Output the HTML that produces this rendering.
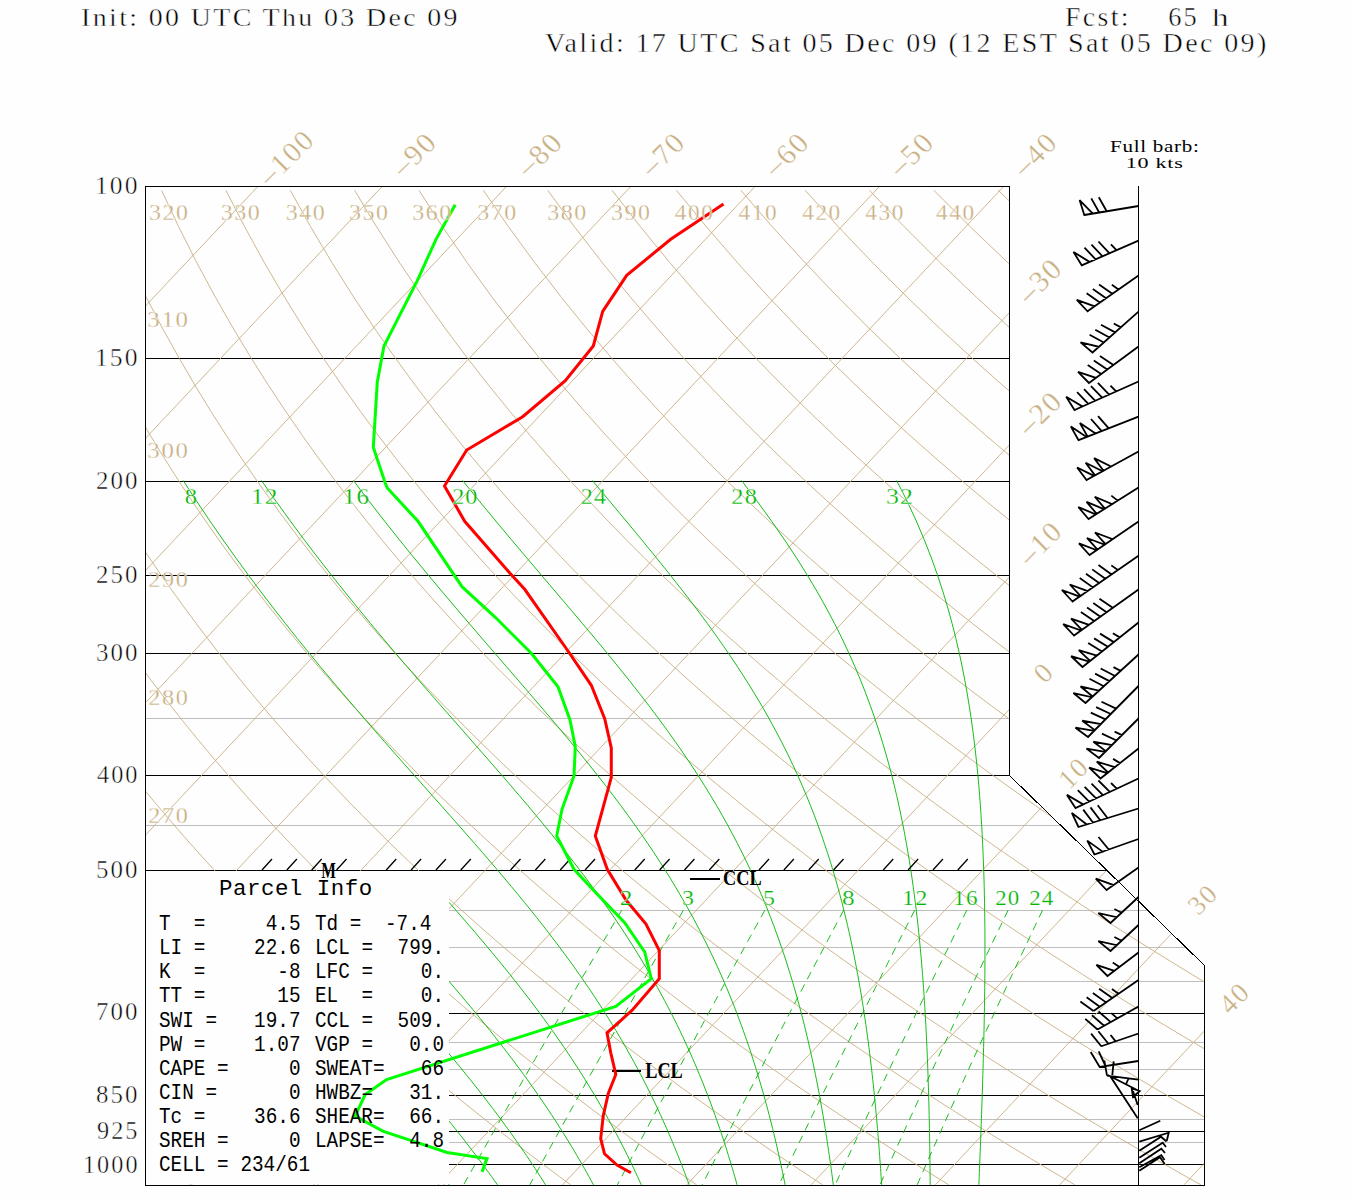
<!DOCTYPE html><html><head><meta charset="utf-8"><style>html,body{margin:0;padding:0;background:#fff;}svg{display:block;}</style></head><body><svg width="1350" height="1200" viewBox="0 0 1350 1200"><rect width="1350" height="1200" fill="#fefefe"/><defs><clipPath id="fr"><polygon points="145,186 1009,186 1009,775 1204,965 1204,1185 145,1185"/></clipPath></defs><g clip-path="url(#fr)" fill="none" stroke-width="1" shape-rendering="crispEdges"><line x1="145" y1="718.5" x2="1205" y2="718.5" stroke="#bebebe"/><line x1="145" y1="825.5" x2="1205" y2="825.5" stroke="#bebebe"/><line x1="145" y1="910.5" x2="1205" y2="910.5" stroke="#bebebe"/><line x1="145" y1="947.5" x2="1205" y2="947.5" stroke="#bebebe"/><line x1="145" y1="981.5" x2="1205" y2="981.5" stroke="#bebebe"/><line x1="145" y1="1042.5" x2="1205" y2="1042.5" stroke="#bebebe"/><line x1="145" y1="1069.5" x2="1205" y2="1069.5" stroke="#bebebe"/><line x1="145" y1="1119.5" x2="1205" y2="1119.5" stroke="#bebebe"/><line x1="145" y1="1142.5" x2="1205" y2="1142.5" stroke="#bebebe"/><line x1="145" y1="358.5" x2="1205" y2="358.5" stroke="#000"/><line x1="145" y1="481.5" x2="1205" y2="481.5" stroke="#000"/><line x1="145" y1="575.5" x2="1205" y2="575.5" stroke="#000"/><line x1="145" y1="653.5" x2="1205" y2="653.5" stroke="#000"/><line x1="145" y1="775.5" x2="1205" y2="775.5" stroke="#000"/><line x1="145" y1="870.5" x2="1205" y2="870.5" stroke="#000"/><line x1="145" y1="1013.5" x2="1205" y2="1013.5" stroke="#000"/><line x1="145" y1="1095.5" x2="1205" y2="1095.5" stroke="#000"/><line x1="145" y1="1131.5" x2="1205" y2="1131.5" stroke="#000"/><line x1="145" y1="1164.5" x2="1205" y2="1164.5" stroke="#000"/></g><g clip-path="url(#fr)" fill="none" stroke-width="0.9"><line x1="-487.5" y1="186" x2="-1426.34" y2="1184.86" stroke="#c8af82"/><line x1="-363.2" y1="186" x2="-1302.04" y2="1184.86" stroke="#c8af82"/><line x1="-238.9" y1="186" x2="-1177.74" y2="1184.86" stroke="#c8af82"/><line x1="-114.6" y1="186" x2="-1053.44" y2="1184.86" stroke="#c8af82"/><line x1="9.7" y1="186" x2="-929.14" y2="1184.86" stroke="#c8af82"/><line x1="134" y1="186" x2="-804.84" y2="1184.86" stroke="#c8af82"/><line x1="258.3" y1="186" x2="-680.54" y2="1184.86" stroke="#c8af82"/><line x1="382.6" y1="186" x2="-556.24" y2="1184.86" stroke="#c8af82"/><line x1="506.9" y1="186" x2="-431.94" y2="1184.86" stroke="#c8af82"/><line x1="631.2" y1="186" x2="-307.64" y2="1184.86" stroke="#c8af82"/><line x1="755.5" y1="186" x2="-183.34" y2="1184.86" stroke="#c8af82"/><line x1="879.8" y1="186" x2="-59.04" y2="1184.86" stroke="#c8af82"/><line x1="1004.1" y1="186" x2="65.26" y2="1184.86" stroke="#c8af82"/><line x1="1128.4" y1="186" x2="189.56" y2="1184.86" stroke="#c8af82"/><line x1="1252.7" y1="186" x2="313.86" y2="1184.86" stroke="#c8af82"/><line x1="1377" y1="186" x2="438.16" y2="1184.86" stroke="#c8af82"/><line x1="1501.3" y1="186" x2="562.46" y2="1184.86" stroke="#c8af82"/><line x1="1625.6" y1="186" x2="686.76" y2="1184.86" stroke="#c8af82"/><line x1="1749.9" y1="186" x2="811.06" y2="1184.86" stroke="#c8af82"/><line x1="1874.2" y1="186" x2="935.36" y2="1184.86" stroke="#c8af82"/><line x1="1998.5" y1="186" x2="1059.66" y2="1184.86" stroke="#c8af82"/><line x1="2122.8" y1="186" x2="1183.96" y2="1184.86" stroke="#c8af82"/><polyline points="-610.74,190.32 -612.89,226.57 -614.26,263.53 -614.78,297.53 -614.61,329.01 -613.87,358.32 -612.68,385.73 -611.09,411.48 -609.18,435.76 -607,458.72 -604.58,480.51 -601.97,501.24 -599.19,521 -596.27,539.88 -593.22,557.95 -590.06,575.29 -586.81,591.95 -583.49,607.98 -580.09,623.43 -576.64,638.34 -573.13,652.74 -569.58,666.66 -565.99,680.15 -562.37,693.22 -558.73,705.9 -555.06,718.21 -551.37,730.18 -547.67,741.82 -543.96,753.15 -540.23,764.18 -536.5,774.93 -532.77,785.42 -529.03,795.66 -525.29,805.65 -521.54,815.42 -517.8,824.96 -514.07,834.3 -510.33,843.43 -506.61,852.38 -502.88,861.13 -499.17,869.71 -495.46,878.13 -491.75,886.37 -488.06,894.47 -484.38,902.4 -480.7,910.2 -477.03,917.85 -473.38,925.37 -469.73,932.76 -466.1,940.02 -462.48,947.16 -458.86,954.18 -455.26,961.09 -451.67,967.88 -448.09,974.57 -444.53,981.16 -440.97,987.64 -437.43,994.03 -433.9,1000.32 -430.38,1006.52 -426.88,1012.63 -423.38,1018.66 -419.9,1024.6 -416.43,1030.46 -412.98,1036.24 -409.53,1041.94 -406.1,1047.57 -402.68,1053.12 -399.27,1058.6 -395.88,1064.01 -392.49,1069.35 -389.12,1074.63 -385.76,1079.84 -382.42,1084.99 -379.08,1090.08 -375.76,1095.1 -372.45,1100.07 -369.15,1104.98 -365.86,1109.84 -362.59,1114.64 -359.32,1119.38 -356.07,1124.08 -352.83,1128.72 -349.6,1133.31 -346.38,1137.85 -343.18,1142.35 -339.98,1146.8 -336.8,1151.2 -333.63,1155.55 -330.47,1159.87 -327.32,1164.14 -324.18,1168.36 -321.05,1172.55 -317.93,1176.69 -314.83,1180.8 -311.73,1184.86" stroke="#c8af82"/><polyline points="-546.38,190.32 -546.93,226.57 -546.64,263.53 -545.58,297.53 -543.92,329.01 -541.78,358.32 -539.23,385.73 -536.35,411.48 -533.21,435.76 -529.84,458.72 -526.28,480.51 -522.56,501.24 -518.71,521 -514.76,539.88 -510.7,557.95 -506.58,575.29 -502.38,591.95 -498.13,607.98 -493.84,623.43 -489.51,638.34 -485.16,652.74 -480.77,666.66 -476.37,680.15 -471.96,693.22 -467.54,705.9 -463.11,718.21 -458.67,730.18 -454.24,741.82 -449.81,753.15 -445.38,764.18 -440.95,774.93 -436.54,785.42 -432.13,795.66 -427.73,805.65 -423.35,815.42 -418.97,824.96 -414.61,834.3 -410.26,843.43 -405.92,852.38 -401.6,861.13 -397.3,869.71 -393.01,878.13 -388.73,886.37 -384.47,894.47 -380.23,902.4 -376,910.2 -371.8,917.85 -367.6,925.37 -363.43,932.76 -359.27,940.02 -355.13,947.16 -351.01,954.18 -346.9,961.09 -342.81,967.88 -338.74,974.57 -334.69,981.16 -330.65,987.64 -326.63,994.03 -322.63,1000.32 -318.64,1006.52 -314.67,1012.63 -310.72,1018.66 -306.79,1024.6 -302.87,1030.46 -298.97,1036.24 -295.08,1041.94 -291.22,1047.57 -287.36,1053.12 -283.53,1058.6 -279.71,1064.01 -275.91,1069.35 -272.12,1074.63 -268.35,1079.84 -264.59,1084.99 -260.85,1090.08 -257.12,1095.1 -253.42,1100.07 -249.72,1104.98 -246.04,1109.84 -242.38,1114.64 -238.73,1119.38 -235.09,1124.08 -231.47,1128.72 -227.87,1133.31 -224.27,1137.85 -220.7,1142.35 -217.13,1146.8 -213.58,1151.2 -210.05,1155.55 -206.53,1159.87 -203.02,1164.14 -199.52,1168.36 -196.04,1172.55 -192.57,1176.69 -189.12,1180.8 -185.68,1184.86" stroke="#c8af82"/><polyline points="-482.02,190.32 -480.98,226.57 -479.01,263.53 -476.39,297.53 -473.24,329.01 -469.68,358.32 -465.78,385.73 -461.62,411.48 -457.23,435.76 -452.67,458.72 -447.97,480.51 -443.15,501.24 -438.24,521 -433.24,539.88 -428.19,557.95 -423.09,575.29 -417.95,591.95 -412.78,607.98 -407.59,623.43 -402.39,638.34 -397.18,652.74 -391.97,666.66 -386.75,680.15 -381.55,693.22 -376.34,705.9 -371.15,718.21 -365.97,730.18 -360.8,741.82 -355.65,753.15 -350.52,764.18 -345.41,774.93 -340.31,785.42 -335.23,795.66 -330.18,805.65 -325.15,815.42 -320.14,824.96 -315.15,834.3 -310.18,843.43 -305.24,852.38 -300.32,861.13 -295.43,869.71 -290.56,878.13 -285.71,886.37 -280.88,894.47 -276.08,902.4 -271.31,910.2 -266.56,917.85 -261.83,925.37 -257.13,932.76 -252.44,940.02 -247.79,947.16 -243.15,954.18 -238.54,961.09 -233.95,967.88 -229.39,974.57 -224.85,981.16 -220.33,987.64 -215.83,994.03 -211.36,1000.32 -206.9,1006.52 -202.47,1012.63 -198.06,1018.66 -193.68,1024.6 -189.31,1030.46 -184.96,1036.24 -180.64,1041.94 -176.33,1047.57 -172.05,1053.12 -167.79,1058.6 -163.54,1064.01 -159.32,1069.35 -155.12,1074.63 -150.93,1079.84 -146.77,1084.99 -142.62,1090.08 -138.49,1095.1 -134.38,1100.07 -130.29,1104.98 -126.22,1109.84 -122.17,1114.64 -118.13,1119.38 -114.11,1124.08 -110.11,1128.72 -106.13,1133.31 -102.16,1137.85 -98.21,1142.35 -94.28,1146.8 -90.37,1151.2 -86.47,1155.55 -82.58,1159.87 -78.72,1164.14 -74.87,1168.36 -71.03,1172.55 -67.21,1176.69 -63.41,1180.8 -59.62,1184.86" stroke="#c8af82"/><polyline points="-417.66,190.32 -415.02,226.57 -411.39,263.53 -407.19,297.53 -402.55,329.01 -397.58,358.32 -392.33,385.73 -386.88,411.48 -381.26,435.76 -375.51,458.72 -369.66,480.51 -363.74,501.24 -357.76,521 -351.73,539.88 -345.68,557.95 -339.6,575.29 -333.52,591.95 -327.43,607.98 -321.35,623.43 -315.27,638.34 -309.21,652.74 -303.16,666.66 -297.14,680.15 -291.13,693.22 -285.15,705.9 -279.2,718.21 -273.27,730.18 -267.37,741.82 -261.5,753.15 -255.66,764.18 -249.86,774.93 -244.08,785.42 -238.34,795.66 -232.63,805.65 -226.95,815.42 -221.3,824.96 -215.69,834.3 -210.11,843.43 -204.56,852.38 -199.04,861.13 -193.56,869.71 -188.1,878.13 -182.68,886.37 -177.3,894.47 -171.94,902.4 -166.61,910.2 -161.32,917.85 -156.05,925.37 -150.82,932.76 -145.62,940.02 -140.44,947.16 -135.3,954.18 -130.18,961.09 -125.1,967.88 -120.04,974.57 -115.01,981.16 -110.01,987.64 -105.03,994.03 -100.09,1000.32 -95.17,1006.52 -90.27,1012.63 -85.4,1018.66 -80.56,1024.6 -75.75,1030.46 -70.96,1036.24 -66.19,1041.94 -61.45,1047.57 -56.74,1053.12 -52.04,1058.6 -47.38,1064.01 -42.73,1069.35 -38.11,1074.63 -33.51,1079.84 -28.94,1084.99 -24.39,1090.08 -19.86,1095.1 -15.35,1100.07 -10.86,1104.98 -6.4,1109.84 -1.96,1114.64 2.47,1119.38 6.87,1124.08 11.25,1128.72 15.61,1133.31 19.95,1137.85 24.27,1142.35 28.57,1146.8 32.85,1151.2 37.11,1155.55 41.36,1159.87 45.58,1164.14 49.79,1168.36 53.98,1172.55 58.14,1176.69 62.3,1180.8 66.43,1184.86" stroke="#c8af82"/><polyline points="-353.3,190.32 -349.06,226.57 -343.76,263.53 -337.99,297.53 -331.87,329.01 -325.48,358.32 -318.89,385.73 -312.14,411.48 -305.29,435.76 -298.35,458.72 -291.36,480.51 -284.33,501.24 -277.28,521 -270.22,539.88 -263.16,557.95 -256.11,575.29 -249.08,591.95 -242.08,607.98 -235.1,623.43 -228.15,638.34 -221.23,652.74 -214.36,666.66 -207.52,680.15 -200.72,693.22 -193.96,705.9 -187.24,718.21 -180.57,730.18 -173.94,741.82 -167.35,753.15 -160.81,764.18 -154.31,774.93 -147.85,785.42 -141.44,795.66 -135.07,805.65 -128.75,815.42 -122.47,824.96 -116.23,834.3 -110.03,843.43 -103.87,852.38 -97.76,861.13 -91.69,869.71 -85.65,878.13 -79.66,886.37 -73.71,894.47 -67.79,902.4 -61.92,910.2 -56.08,917.85 -50.28,925.37 -44.52,932.76 -38.79,940.02 -33.1,947.16 -27.44,954.18 -21.82,961.09 -16.24,967.88 -10.69,974.57 -5.17,981.16 0.32,987.64 5.77,994.03 11.19,1000.32 16.57,1006.52 21.93,1012.63 27.26,1018.66 32.55,1024.6 37.81,1030.46 43.05,1036.24 48.25,1041.94 53.43,1047.57 58.58,1053.12 63.7,1058.6 68.79,1064.01 73.85,1069.35 78.89,1074.63 83.9,1079.84 88.89,1084.99 93.84,1090.08 98.78,1095.1 103.68,1100.07 108.56,1104.98 113.42,1109.84 118.25,1114.64 123.06,1119.38 127.85,1124.08 132.61,1128.72 137.35,1133.31 142.06,1137.85 146.75,1142.35 151.42,1146.8 156.07,1151.2 160.7,1155.55 165.3,1159.87 169.88,1164.14 174.44,1168.36 178.98,1172.55 183.5,1176.69 188,1180.8 192.48,1184.86" stroke="#c8af82"/><polyline points="-288.94,190.32 -283.11,226.57 -276.14,263.53 -268.8,297.53 -261.19,329.01 -253.38,358.32 -245.44,385.73 -237.41,411.48 -229.32,435.76 -221.19,458.72 -213.05,480.51 -204.92,501.24 -196.8,521 -188.71,539.88 -180.65,557.95 -172.63,575.29 -164.65,591.95 -156.72,607.98 -148.85,623.43 -141.03,638.34 -133.26,652.74 -125.55,666.66 -117.9,680.15 -110.3,693.22 -102.77,705.9 -95.29,718.21 -87.87,730.18 -80.5,741.82 -73.2,753.15 -65.95,764.18 -58.76,774.93 -51.63,785.42 -44.55,795.66 -37.52,805.65 -30.55,815.42 -23.63,824.96 -16.77,834.3 -9.95,843.43 -3.19,852.38 3.52,861.13 10.18,869.71 16.8,878.13 23.36,886.37 29.88,894.47 36.35,902.4 42.78,910.2 49.16,917.85 55.5,925.37 61.79,932.76 68.04,940.02 74.25,947.16 80.41,954.18 86.54,961.09 92.62,967.88 98.66,974.57 104.67,981.16 110.64,987.64 116.57,994.03 122.46,1000.32 128.31,1006.52 134.13,1012.63 139.91,1018.66 145.66,1024.6 151.38,1030.46 157.05,1036.24 162.7,1041.94 168.31,1047.57 173.89,1053.12 179.44,1058.6 184.96,1064.01 190.44,1069.35 195.89,1074.63 201.32,1079.84 206.71,1084.99 212.07,1090.08 217.41,1095.1 222.71,1100.07 227.99,1104.98 233.24,1109.84 238.46,1114.64 243.66,1119.38 248.83,1124.08 253.97,1128.72 259.08,1133.31 264.17,1137.85 269.24,1142.35 274.27,1146.8 279.29,1151.2 284.28,1155.55 289.24,1159.87 294.18,1164.14 299.1,1168.36 303.99,1172.55 308.86,1176.69 313.71,1180.8 318.54,1184.86" stroke="#c8af82"/><polyline points="-224.58,190.32 -217.15,226.57 -208.51,263.53 -199.6,297.53 -190.5,329.01 -181.28,358.32 -171.99,385.73 -162.67,411.48 -153.34,435.76 -144.03,458.72 -134.75,480.51 -125.51,501.24 -116.32,521 -107.19,539.88 -98.13,557.95 -89.14,575.29 -80.22,591.95 -71.37,607.98 -62.6,623.43 -53.91,638.34 -45.29,652.74 -36.74,666.66 -28.28,680.15 -19.89,693.22 -11.57,705.9 -3.33,718.21 4.83,730.18 12.93,741.82 20.95,753.15 28.9,764.18 36.79,774.93 44.6,785.42 52.35,795.66 60.03,805.65 67.65,815.42 75.2,824.96 82.69,834.3 90.12,843.43 97.49,852.38 104.8,861.13 112.05,869.71 119.25,878.13 126.39,886.37 133.47,894.47 140.5,902.4 147.47,910.2 154.4,917.85 161.27,925.37 168.09,932.76 174.87,940.02 181.59,947.16 188.27,954.18 194.9,961.09 201.48,967.88 208.02,974.57 214.51,981.16 220.96,987.64 227.37,994.03 233.73,1000.32 240.05,1006.52 246.33,1012.63 252.57,1018.66 258.78,1024.6 264.94,1030.46 271.06,1036.24 277.15,1041.94 283.19,1047.57 289.21,1053.12 295.18,1058.6 301.12,1064.01 307.03,1069.35 312.9,1074.63 318.73,1079.84 324.54,1084.99 330.31,1090.08 336.04,1095.1 341.75,1100.07 347.42,1104.98 353.06,1109.84 358.67,1114.64 364.25,1119.38 369.81,1124.08 375.33,1128.72 380.82,1133.31 386.28,1137.85 391.72,1142.35 397.13,1146.8 402.51,1151.2 407.86,1155.55 413.18,1159.87 418.48,1164.14 423.75,1168.36 429,1172.55 434.22,1176.69 439.42,1180.8 444.59,1184.86" stroke="#c8af82"/><polyline points="-160.22,190.32 -151.19,226.57 -140.89,263.53 -130.4,297.53 -119.82,329.01 -109.18,358.32 -98.55,385.73 -87.93,411.48 -77.37,435.76 -66.87,458.72 -56.44,480.51 -46.1,501.24 -35.84,521 -25.68,539.88 -15.62,557.95 -5.65,575.29 4.21,591.95 13.98,607.98 23.65,623.43 33.22,638.34 42.69,652.74 52.06,666.66 61.34,680.15 70.53,693.22 79.62,705.9 88.62,718.21 97.54,730.18 106.36,741.82 115.1,753.15 123.76,764.18 132.34,774.93 140.83,785.42 149.25,795.66 157.58,805.65 165.85,815.42 174.04,824.96 182.15,834.3 190.2,843.43 198.17,852.38 206.08,861.13 213.92,869.71 221.7,878.13 229.41,886.37 237.06,894.47 244.64,902.4 252.17,910.2 259.64,917.85 267.05,925.37 274.4,932.76 281.69,940.02 288.93,947.16 296.12,954.18 303.25,961.09 310.34,967.88 317.37,974.57 324.35,981.16 331.28,987.64 338.17,994.03 345,1000.32 351.79,1006.52 358.53,1012.63 365.23,1018.66 371.89,1024.6 378.5,1030.46 385.07,1036.24 391.59,1041.94 398.08,1047.57 404.52,1053.12 410.92,1058.6 417.29,1064.01 423.61,1069.35 429.9,1074.63 436.15,1079.84 442.36,1084.99 448.54,1090.08 454.68,1095.1 460.78,1100.07 466.85,1104.98 472.88,1109.84 478.88,1114.64 484.85,1119.38 490.79,1124.08 496.69,1128.72 502.56,1133.31 508.39,1137.85 514.2,1142.35 519.98,1146.8 525.72,1151.2 531.44,1155.55 537.13,1159.87 542.78,1164.14 548.41,1168.36 554.01,1172.55 559.58,1176.69 565.13,1180.8 570.64,1184.86" stroke="#c8af82"/><polyline points="-95.87,190.32 -85.24,226.57 -73.26,263.53 -61.21,297.53 -49.13,329.01 -37.09,358.32 -25.1,385.73 -13.2,411.48 -1.4,435.76 10.29,458.72 21.87,480.51 33.31,501.24 44.64,521 55.83,539.88 66.9,557.95 77.83,575.29 88.65,591.95 99.33,607.98 109.9,623.43 120.34,638.34 130.66,652.74 140.87,666.66 150.96,680.15 160.94,693.22 170.81,705.9 180.58,718.21 190.24,730.18 199.8,741.82 209.25,753.15 218.62,764.18 227.88,774.93 237.06,785.42 246.14,795.66 255.14,805.65 264.05,815.42 272.87,824.96 281.61,834.3 290.27,843.43 298.86,852.38 307.36,861.13 315.79,869.71 324.15,878.13 332.43,886.37 340.65,894.47 348.79,902.4 356.87,910.2 364.88,917.85 372.82,925.37 380.7,932.76 388.52,940.02 396.28,947.16 403.98,954.18 411.61,961.09 419.2,967.88 426.72,974.57 434.19,981.16 441.6,987.64 448.96,994.03 456.27,1000.32 463.53,1006.52 470.74,1012.63 477.89,1018.66 485,1024.6 492.06,1030.46 499.07,1036.24 506.04,1041.94 512.96,1047.57 519.83,1053.12 526.67,1058.6 533.45,1064.01 540.2,1069.35 546.9,1074.63 553.57,1079.84 560.19,1084.99 566.77,1090.08 573.31,1095.1 579.81,1100.07 586.28,1104.98 592.7,1109.84 599.09,1114.64 605.45,1119.38 611.77,1124.08 618.05,1128.72 624.29,1133.31 630.51,1137.85 636.68,1142.35 642.83,1146.8 648.94,1151.2 655.02,1155.55 661.07,1159.87 667.08,1164.14 673.07,1168.36 679.02,1172.55 684.94,1176.69 690.83,1180.8 696.7,1184.86" stroke="#c8af82"/><polyline points="-31.51,190.32 -19.28,226.57 -5.64,263.53 7.99,297.53 21.55,329.01 35.01,358.32 48.35,385.73 61.54,411.48 74.58,435.76 87.46,458.72 100.17,480.51 112.73,501.24 125.12,521 137.34,539.88 149.41,557.95 161.32,575.29 173.08,591.95 184.68,607.98 196.14,623.43 207.46,638.34 218.63,652.74 229.67,666.66 240.58,680.15 251.35,693.22 262,705.9 272.53,718.21 282.94,730.18 293.23,741.82 303.41,753.15 313.47,764.18 323.43,774.93 333.29,785.42 343.04,795.66 352.69,805.65 362.25,815.42 371.71,824.96 381.07,834.3 390.35,843.43 399.54,852.38 408.64,861.13 417.66,869.71 426.6,878.13 435.46,886.37 444.23,894.47 452.94,902.4 461.56,910.2 470.11,917.85 478.6,925.37 487.01,932.76 495.35,940.02 503.62,947.16 511.83,954.18 519.97,961.09 528.05,967.88 536.07,974.57 544.03,981.16 551.93,987.64 559.76,994.03 567.54,1000.32 575.27,1006.52 582.94,1012.63 590.55,1018.66 598.11,1024.6 605.62,1030.46 613.08,1036.24 620.48,1041.94 627.84,1047.57 635.15,1053.12 642.41,1058.6 649.62,1064.01 656.79,1069.35 663.91,1074.63 670.98,1079.84 678.01,1084.99 685,1090.08 691.94,1095.1 698.85,1100.07 705.71,1104.98 712.53,1109.84 719.3,1114.64 726.04,1119.38 732.74,1124.08 739.41,1128.72 746.03,1133.31 752.62,1137.85 759.17,1142.35 765.68,1146.8 772.16,1151.2 778.6,1155.55 785.01,1159.87 791.38,1164.14 797.72,1168.36 804.03,1172.55 810.3,1176.69 816.54,1180.8 822.75,1184.86" stroke="#c8af82"/><polyline points="32.85,190.32 46.67,226.57 61.98,263.53 77.19,297.53 92.24,329.01 107.11,358.32 121.79,385.73 136.28,411.48 150.55,435.76 164.62,458.72 178.48,480.51 192.14,501.24 205.59,521 218.86,539.88 231.93,557.95 244.81,575.29 257.51,591.95 270.04,607.98 282.39,623.43 294.58,638.34 306.61,652.74 318.48,666.66 330.2,680.15 341.77,693.22 353.2,705.9 364.48,718.21 375.64,730.18 386.66,741.82 397.56,753.15 408.33,764.18 418.98,774.93 429.51,785.42 439.93,795.66 450.24,805.65 460.44,815.42 470.54,824.96 480.53,834.3 490.43,843.43 500.22,852.38 509.92,861.13 519.53,869.71 529.05,878.13 538.48,886.37 547.82,894.47 557.08,902.4 566.26,910.2 575.35,917.85 584.37,925.37 593.31,932.76 602.18,940.02 610.97,947.16 619.68,954.18 628.33,961.09 636.91,967.88 645.42,974.57 653.87,981.16 662.25,987.64 670.56,994.03 678.82,1000.32 687.01,1006.52 695.14,1012.63 703.21,1018.66 711.23,1024.6 719.18,1030.46 727.08,1036.24 734.93,1041.94 742.72,1047.57 750.46,1053.12 758.15,1058.6 765.79,1064.01 773.37,1069.35 780.91,1074.63 788.4,1079.84 795.84,1084.99 803.23,1090.08 810.58,1095.1 817.88,1100.07 825.13,1104.98 832.35,1109.84 839.51,1114.64 846.64,1119.38 853.72,1124.08 860.77,1128.72 867.77,1133.31 874.73,1137.85 881.65,1142.35 888.53,1146.8 895.38,1151.2 902.18,1155.55 908.95,1159.87 915.68,1164.14 922.38,1168.36 929.04,1172.55 935.66,1176.69 942.25,1180.8 948.8,1184.86" stroke="#c8af82"/><polyline points="97.21,190.32 112.63,226.57 129.61,263.53 146.38,297.53 162.92,329.01 179.21,358.32 195.24,385.73 211.01,411.48 226.52,435.76 241.78,458.72 256.79,480.51 271.55,501.24 286.07,521 300.37,539.88 314.44,557.95 328.3,575.29 341.94,591.95 355.39,607.98 368.64,623.43 381.7,638.34 394.58,652.74 407.28,666.66 419.82,680.15 432.18,693.22 444.39,705.9 456.44,718.21 468.34,730.18 480.1,741.82 491.71,753.15 503.18,764.18 514.53,774.93 525.74,785.42 536.83,795.66 547.8,805.65 558.64,815.42 569.37,824.96 579.99,834.3 590.5,843.43 600.91,852.38 611.2,861.13 621.4,869.71 631.5,878.13 641.5,886.37 651.41,894.47 661.23,902.4 670.95,910.2 680.59,917.85 690.15,925.37 699.61,932.76 709,940.02 718.31,947.16 727.54,954.18 736.69,961.09 745.77,967.88 754.77,974.57 763.71,981.16 772.57,987.64 781.36,994.03 790.09,1000.32 798.75,1006.52 807.34,1012.63 815.87,1018.66 824.34,1024.6 832.74,1030.46 841.09,1036.24 849.38,1041.94 857.61,1047.57 865.78,1053.12 873.89,1058.6 881.95,1064.01 889.96,1069.35 897.91,1074.63 905.81,1079.84 913.66,1084.99 921.46,1090.08 929.21,1095.1 936.91,1100.07 944.56,1104.98 952.17,1109.84 959.72,1114.64 967.24,1119.38 974.7,1124.08 982.13,1128.72 989.5,1133.31 996.84,1137.85 1004.13,1142.35 1011.38,1146.8 1018.59,1151.2 1025.76,1155.55 1032.89,1159.87 1039.98,1164.14 1047.03,1168.36 1054.05,1172.55 1061.02,1176.69 1067.96,1180.8 1074.86,1184.86" stroke="#c8af82"/><polyline points="161.57,190.32 178.59,226.57 197.23,263.53 215.58,297.53 233.61,329.01 251.31,358.32 268.69,385.73 285.75,411.48 302.5,435.76 318.94,458.72 335.09,480.51 350.96,501.24 366.55,521 381.88,539.88 396.95,557.95 411.78,575.29 426.38,591.95 440.74,607.98 454.89,623.43 468.82,638.34 482.55,652.74 496.09,666.66 509.43,680.15 522.6,693.22 535.58,705.9 548.39,718.21 561.04,730.18 573.53,741.82 585.86,753.15 598.04,764.18 610.08,774.93 621.97,785.42 633.73,795.66 645.35,805.65 656.84,815.42 668.21,824.96 679.45,834.3 690.58,843.43 701.59,852.38 712.48,861.13 723.27,869.71 733.95,878.13 744.53,886.37 755,894.47 765.37,902.4 775.65,910.2 785.83,917.85 795.92,925.37 805.92,932.76 815.83,940.02 825.65,947.16 835.39,954.18 845.05,961.09 854.63,967.88 864.13,974.57 873.55,981.16 882.89,987.64 892.16,994.03 901.36,1000.32 910.49,1006.52 919.54,1012.63 928.53,1018.66 937.45,1024.6 946.31,1030.46 955.1,1036.24 963.82,1041.94 972.49,1047.57 981.09,1053.12 989.63,1058.6 998.12,1064.01 1006.55,1069.35 1014.92,1074.63 1023.23,1079.84 1031.49,1084.99 1039.69,1090.08 1047.84,1095.1 1055.94,1100.07 1063.99,1104.98 1071.99,1109.84 1079.93,1114.64 1087.83,1119.38 1095.68,1124.08 1103.49,1128.72 1111.24,1133.31 1118.95,1137.85 1126.62,1142.35 1134.24,1146.8 1141.81,1151.2 1149.34,1155.55 1156.83,1159.87 1164.28,1164.14 1171.69,1168.36 1179.05,1172.55 1186.38,1176.69 1193.66,1180.8 1200.91,1184.86" stroke="#c8af82"/><polyline points="225.93,190.32 244.54,226.57 264.86,263.53 284.78,297.53 304.29,329.01 323.41,358.32 342.14,385.73 360.49,411.48 378.47,435.76 396.1,458.72 413.4,480.51 430.37,501.24 447.03,521 463.39,539.88 479.47,557.95 495.27,575.29 510.81,591.95 526.09,607.98 541.14,623.43 555.94,638.34 570.53,652.74 584.9,666.66 599.05,680.15 613.01,693.22 626.77,705.9 640.35,718.21 653.74,730.18 666.96,741.82 680.01,753.15 692.9,764.18 705.62,774.93 718.2,785.42 730.62,795.66 742.9,805.65 755.04,815.42 767.04,824.96 778.91,834.3 790.66,843.43 802.27,852.38 813.77,861.13 825.14,869.71 836.4,878.13 847.55,886.37 858.59,894.47 869.52,902.4 880.34,910.2 891.07,917.85 901.7,925.37 912.22,932.76 922.66,940.02 933,947.16 943.25,954.18 953.41,961.09 963.49,967.88 973.48,974.57 983.39,981.16 993.21,987.64 1002.96,994.03 1012.63,1000.32 1022.22,1006.52 1031.74,1012.63 1041.19,1018.66 1050.56,1024.6 1059.87,1030.46 1069.1,1036.24 1078.27,1041.94 1087.37,1047.57 1096.41,1053.12 1105.38,1058.6 1114.29,1064.01 1123.13,1069.35 1131.92,1074.63 1140.64,1079.84 1149.31,1084.99 1157.92,1090.08 1166.48,1095.1 1174.98,1100.07 1183.42,1104.98 1191.81,1109.84 1200.14,1114.64 1208.43,1119.38 1216.66,1124.08 1224.85,1128.72 1232.98,1133.31 1241.06,1137.85 1249.1,1142.35 1257.09,1146.8 1265.03,1151.2 1272.93,1155.55 1280.78,1159.87 1288.58,1164.14 1296.34,1168.36 1304.06,1172.55 1311.74,1176.69 1319.37,1180.8 1326.96,1184.86" stroke="#c8af82"/><polyline points="290.29,190.32 310.5,226.57 332.48,263.53 353.97,297.53 374.98,329.01 395.51,358.32 415.58,385.73 435.22,411.48 454.44,435.76 473.26,458.72 491.7,480.51 509.78,501.24 527.51,521 544.9,539.88 561.98,557.95 578.76,575.29 595.24,591.95 611.45,607.98 627.38,623.43 643.07,638.34 658.5,652.74 673.7,666.66 688.67,680.15 703.42,693.22 717.97,705.9 732.3,718.21 746.44,730.18 760.4,741.82 774.16,753.15 787.75,764.18 801.17,774.93 814.43,785.42 827.52,795.66 840.45,805.65 853.24,815.42 865.88,824.96 878.37,834.3 890.73,843.43 902.95,852.38 915.05,861.13 927.01,869.71 938.85,878.13 950.57,886.37 962.18,894.47 973.66,902.4 985.04,910.2 996.31,917.85 1007.47,925.37 1018.53,932.76 1029.48,940.02 1040.34,947.16 1051.1,954.18 1061.77,961.09 1072.35,967.88 1082.83,974.57 1093.23,981.16 1103.54,987.64 1113.76,994.03 1123.9,1000.32 1133.96,1006.52 1143.95,1012.63 1153.85,1018.66 1163.68,1024.6 1173.43,1030.46 1183.11,1036.24 1192.72,1041.94 1202.25,1047.57 1211.72,1053.12 1221.12,1058.6 1230.45,1064.01 1239.72,1069.35 1248.92,1074.63 1258.06,1079.84 1267.14,1084.99 1276.15,1090.08 1285.11,1095.1 1294.01,1100.07 1302.85,1104.98 1311.63,1109.84 1320.35,1114.64 1329.03,1119.38 1337.64,1124.08 1346.21,1128.72 1354.72,1133.31 1363.17,1137.85 1371.58,1142.35 1379.94,1146.8 1388.25,1151.2 1396.51,1155.55 1404.72,1159.87 1412.88,1164.14 1421,1168.36 1429.07,1172.55 1437.1,1176.69 1445.08,1180.8 1453.02,1184.86" stroke="#c8af82"/><polyline points="354.65,190.32 376.45,226.57 400.11,263.53 423.17,297.53 445.66,329.01 467.61,358.32 489.03,385.73 509.96,411.48 530.42,435.76 550.43,458.72 570.01,480.51 589.19,501.24 607.99,521 626.42,539.88 644.5,557.95 662.24,575.29 679.67,591.95 696.8,607.98 713.63,623.43 730.19,638.34 746.48,652.74 762.51,666.66 778.29,680.15 793.84,693.22 809.16,705.9 824.26,718.21 839.15,730.18 853.83,741.82 868.31,753.15 882.61,764.18 896.72,774.93 910.65,785.42 924.41,795.66 938.01,805.65 951.44,815.42 964.71,824.96 977.83,834.3 990.81,843.43 1003.64,852.38 1016.33,861.13 1028.88,869.71 1041.3,878.13 1053.6,886.37 1065.76,894.47 1077.81,902.4 1089.74,910.2 1101.55,917.85 1113.24,925.37 1124.83,932.76 1136.31,940.02 1147.69,947.16 1158.96,954.18 1170.13,961.09 1181.2,967.88 1192.18,974.57 1203.07,981.16 1213.86,987.64 1224.56,994.03 1235.17,1000.32 1245.7,1006.52 1256.15,1012.63 1266.51,1018.66 1276.79,1024.6 1286.99,1030.46 1297.11,1036.24 1307.16,1041.94 1317.13,1047.57 1327.03,1053.12 1336.86,1058.6 1346.62,1064.01 1356.31,1069.35 1365.92,1074.63 1375.48,1079.84 1384.96,1084.99 1394.39,1090.08 1403.74,1095.1 1413.04,1100.07 1422.28,1104.98 1431.45,1109.84 1440.57,1114.64 1449.62,1119.38 1458.62,1124.08 1467.57,1128.72 1476.45,1133.31 1485.29,1137.85 1494.06,1142.35 1502.79,1146.8 1511.47,1151.2 1520.09,1155.55 1528.66,1159.87 1537.18,1164.14 1545.66,1168.36 1554.08,1172.55 1562.46,1176.69 1570.79,1180.8 1579.07,1184.86" stroke="#c8af82"/><polyline points="419.01,190.32 442.41,226.57 467.73,263.53 492.36,297.53 516.34,329.01 539.7,358.32 562.48,385.73 584.69,411.48 606.39,435.76 627.59,458.72 648.32,480.51 668.6,501.24 688.47,521 707.93,539.88 727.01,557.95 745.73,575.29 764.11,591.95 782.15,607.98 799.88,623.43 817.31,638.34 834.45,652.74 851.31,666.66 867.91,680.15 884.25,693.22 900.35,705.9 916.21,718.21 931.85,730.18 947.26,741.82 962.47,753.15 977.47,764.18 992.27,774.93 1006.88,785.42 1021.31,795.66 1035.56,805.65 1049.64,815.42 1063.55,824.96 1077.29,834.3 1090.88,843.43 1104.32,852.38 1117.61,861.13 1130.75,869.71 1143.75,878.13 1156.62,886.37 1169.35,894.47 1181.96,902.4 1194.43,910.2 1206.79,917.85 1219.02,925.37 1231.14,932.76 1243.14,940.02 1255.03,947.16 1266.81,954.18 1278.49,961.09 1290.06,967.88 1301.53,974.57 1312.9,981.16 1324.18,987.64 1335.36,994.03 1346.45,1000.32 1357.44,1006.52 1368.35,1012.63 1379.17,1018.66 1389.9,1024.6 1400.55,1030.46 1411.12,1036.24 1421.61,1041.94 1432.02,1047.57 1442.35,1053.12 1452.6,1058.6 1462.78,1064.01 1472.89,1069.35 1482.93,1074.63 1492.89,1079.84 1502.79,1084.99 1512.62,1090.08 1522.38,1095.1 1532.07,1100.07 1541.7,1104.98 1551.27,1109.84 1560.78,1114.64 1570.22,1119.38 1579.6,1124.08 1588.92,1128.72 1598.19,1133.31 1607.4,1137.85 1616.55,1142.35 1625.64,1146.8 1634.68,1151.2 1643.67,1155.55 1652.6,1159.87 1661.48,1164.14 1670.31,1168.36 1679.09,1172.55 1687.82,1176.69 1696.49,1180.8 1705.12,1184.86" stroke="#c8af82"/><polyline points="483.37,190.32 508.37,226.57 535.36,263.53 561.56,297.53 587.03,329.01 611.8,358.32 635.92,385.73 659.43,411.48 682.36,435.76 704.75,458.72 726.62,480.51 748.01,501.24 768.94,521 789.44,539.88 809.53,557.95 829.22,575.29 848.54,591.95 867.5,607.98 886.13,623.43 904.43,638.34 922.42,652.74 940.12,666.66 957.53,680.15 974.67,693.22 991.54,705.9 1008.17,718.21 1024.55,730.18 1040.7,741.82 1056.62,753.15 1072.32,764.18 1087.82,774.93 1103.11,785.42 1118.21,795.66 1133.11,805.65 1147.84,815.42 1162.38,824.96 1176.75,834.3 1190.96,843.43 1205,852.38 1218.89,861.13 1232.62,869.71 1246.2,878.13 1259.64,886.37 1272.94,894.47 1286.1,902.4 1299.13,910.2 1312.02,917.85 1324.79,925.37 1337.44,932.76 1349.97,940.02 1362.38,947.16 1374.67,954.18 1386.85,961.09 1398.92,967.88 1410.88,974.57 1422.74,981.16 1434.5,987.64 1446.16,994.03 1457.72,1000.32 1469.18,1006.52 1480.55,1012.63 1491.83,1018.66 1503.01,1024.6 1514.11,1030.46 1525.13,1036.24 1536.05,1041.94 1546.9,1047.57 1557.66,1053.12 1568.35,1058.6 1578.95,1064.01 1589.48,1069.35 1599.93,1074.63 1610.31,1079.84 1620.61,1084.99 1630.85,1090.08 1641.01,1095.1 1651.11,1100.07 1661.13,1104.98 1671.09,1109.84 1680.99,1114.64 1690.81,1119.38 1700.58,1124.08 1710.28,1128.72 1719.93,1133.31 1729.51,1137.85 1739.03,1142.35 1748.49,1146.8 1757.9,1151.2 1767.25,1155.55 1776.54,1159.87 1785.78,1164.14 1794.97,1168.36 1804.1,1172.55 1813.18,1176.69 1822.2,1180.8 1831.18,1184.86" stroke="#c8af82"/><polyline points="547.73,190.32 574.32,226.57 602.98,263.53 630.76,297.53 657.71,329.01 683.9,358.32 709.37,385.73 734.17,411.48 758.34,435.76 781.91,458.72 804.93,480.51 827.42,501.24 849.42,521 870.95,539.88 892.04,557.95 912.71,575.29 932.97,591.95 952.86,607.98 972.38,623.43 991.55,638.34 1010.4,652.74 1028.92,666.66 1047.15,680.15 1065.08,693.22 1082.74,705.9 1100.12,718.21 1117.25,730.18 1134.13,741.82 1150.77,753.15 1167.18,764.18 1183.37,774.93 1199.34,785.42 1215.1,795.66 1230.67,805.65 1246.03,815.42 1261.22,824.96 1276.21,834.3 1291.04,843.43 1305.69,852.38 1320.17,861.13 1334.49,869.71 1348.65,878.13 1362.67,886.37 1376.53,894.47 1390.25,902.4 1403.82,910.2 1417.26,917.85 1430.57,925.37 1443.75,932.76 1456.79,940.02 1469.72,947.16 1482.52,954.18 1495.21,961.09 1507.78,967.88 1520.24,974.57 1532.58,981.16 1544.82,987.64 1556.96,994.03 1568.99,1000.32 1580.92,1006.52 1592.75,1012.63 1604.49,1018.66 1616.13,1024.6 1627.68,1030.46 1639.13,1036.24 1650.5,1041.94 1661.78,1047.57 1672.98,1053.12 1684.09,1058.6 1695.12,1064.01 1706.06,1069.35 1716.93,1074.63 1727.72,1079.84 1738.44,1084.99 1749.08,1090.08 1759.64,1095.1 1770.14,1100.07 1780.56,1104.98 1790.91,1109.84 1801.2,1114.64 1811.41,1119.38 1821.56,1124.08 1831.64,1128.72 1841.66,1133.31 1851.62,1137.85 1861.51,1142.35 1871.35,1146.8 1881.12,1151.2 1890.83,1155.55 1900.49,1159.87 1910.08,1164.14 1919.62,1168.36 1929.11,1172.55 1938.54,1176.69 1947.91,1180.8 1957.23,1184.86" stroke="#c8af82"/><polyline points="612.09,190.32 640.28,226.57 670.6,263.53 699.95,297.53 728.4,329.01 756,358.32 782.82,385.73 808.9,411.48 834.31,435.76 859.07,458.72 883.24,480.51 906.84,501.24 929.9,521 952.47,539.88 974.56,557.95 996.19,575.29 1017.4,591.95 1038.21,607.98 1058.63,623.43 1078.67,638.34 1098.37,652.74 1117.73,666.66 1136.77,680.15 1155.5,693.22 1173.93,705.9 1192.08,718.21 1209.95,730.18 1227.56,741.82 1244.92,753.15 1262.03,764.18 1278.91,774.93 1295.57,785.42 1312,795.66 1328.22,805.65 1344.23,815.42 1360.05,824.96 1375.67,834.3 1391.11,843.43 1406.37,852.38 1421.45,861.13 1436.36,869.71 1451.11,878.13 1465.69,886.37 1480.12,894.47 1494.39,902.4 1508.52,910.2 1522.5,917.85 1536.34,925.37 1550.05,932.76 1563.62,940.02 1577.06,947.16 1590.38,954.18 1603.57,961.09 1616.64,967.88 1629.59,974.57 1642.42,981.16 1655.15,987.64 1667.76,994.03 1680.26,1000.32 1692.66,1006.52 1704.95,1012.63 1717.15,1018.66 1729.24,1024.6 1741.24,1030.46 1753.14,1036.24 1764.95,1041.94 1776.66,1047.57 1788.29,1053.12 1799.83,1058.6 1811.28,1064.01 1822.65,1069.35 1833.94,1074.63 1845.14,1079.84 1856.26,1084.99 1867.31,1090.08 1878.28,1095.1 1889.17,1100.07 1899.99,1104.98 1910.73,1109.84 1921.41,1114.64 1932.01,1119.38 1942.54,1124.08 1953,1128.72 1963.4,1133.31 1973.73,1137.85 1984,1142.35 1994.2,1146.8 2004.34,1151.2 2014.41,1155.55 2024.43,1159.87 2034.38,1164.14 2044.28,1168.36 2054.11,1172.55 2063.89,1176.69 2073.62,1180.8 2083.28,1184.86" stroke="#c8af82"/><polyline points="676.45,190.32 706.23,226.57 738.23,263.53 769.15,297.53 799.08,329.01 828.1,358.32 856.26,385.73 883.64,411.48 910.28,435.76 936.23,458.72 961.54,480.51 986.25,501.24 1010.38,521 1033.98,539.88 1057.07,557.95 1079.68,575.29 1101.84,591.95 1123.56,607.98 1144.87,623.43 1165.8,638.34 1186.34,652.74 1206.54,666.66 1226.39,680.15 1245.91,693.22 1265.12,705.9 1284.03,718.21 1302.65,730.18 1321,741.82 1339.07,753.15 1356.89,764.18 1374.46,774.93 1391.79,785.42 1408.89,795.66 1425.77,805.65 1442.43,815.42 1458.88,824.96 1475.13,834.3 1491.19,843.43 1507.05,852.38 1522.73,861.13 1538.23,869.71 1553.56,878.13 1568.71,886.37 1583.71,894.47 1598.54,902.4 1613.22,910.2 1627.74,917.85 1642.12,925.37 1656.35,932.76 1670.45,940.02 1684.41,947.16 1698.23,954.18 1711.93,961.09 1725.5,967.88 1738.94,974.57 1752.26,981.16 1765.47,987.64 1778.56,994.03 1791.53,1000.32 1804.4,1006.52 1817.15,1012.63 1829.81,1018.66 1842.35,1024.6 1854.8,1030.46 1867.14,1036.24 1879.39,1041.94 1891.55,1047.57 1903.6,1053.12 1915.57,1058.6 1927.45,1064.01 1939.24,1069.35 1950.94,1074.63 1962.56,1079.84 1974.09,1084.99 1985.54,1090.08 1996.91,1095.1 2008.2,1100.07 2019.42,1104.98 2030.55,1109.84 2041.62,1114.64 2052.6,1119.38 2063.52,1124.08 2074.36,1128.72 2085.14,1133.31 2095.84,1137.85 2106.48,1142.35 2117.05,1146.8 2127.55,1151.2 2137.99,1155.55 2148.37,1159.87 2158.68,1164.14 2168.93,1168.36 2179.12,1172.55 2189.25,1176.69 2199.32,1180.8 2209.34,1184.86" stroke="#c8af82"/><polyline points="740.81,190.32 772.19,226.57 805.85,263.53 838.35,297.53 869.77,329.01 900.2,358.32 929.71,385.73 958.38,411.48 986.25,435.76 1013.4,458.72 1039.85,480.51 1065.66,501.24 1090.86,521 1115.49,539.88 1139.58,557.95 1163.17,575.29 1186.27,591.95 1208.91,607.98 1231.12,623.43 1252.92,638.34 1274.32,652.74 1295.34,666.66 1316,680.15 1336.32,693.22 1356.31,705.9 1375.98,718.21 1395.35,730.18 1414.43,741.82 1433.22,753.15 1451.75,764.18 1470.01,774.93 1488.02,785.42 1505.79,795.66 1523.32,805.65 1540.63,815.42 1557.72,824.96 1574.59,834.3 1591.26,843.43 1607.73,852.38 1624.01,861.13 1640.1,869.71 1656.01,878.13 1671.74,886.37 1687.29,894.47 1702.68,902.4 1717.91,910.2 1732.98,917.85 1747.89,925.37 1762.66,932.76 1777.28,940.02 1791.75,947.16 1806.09,954.18 1820.29,961.09 1834.35,967.88 1848.29,974.57 1862.1,981.16 1875.79,987.64 1889.36,994.03 1902.8,1000.32 1916.14,1006.52 1929.36,1012.63 1942.46,1018.66 1955.47,1024.6 1968.36,1030.46 1981.15,1036.24 1993.84,1041.94 2006.43,1047.57 2018.92,1053.12 2031.31,1058.6 2043.62,1064.01 2055.82,1069.35 2067.94,1074.63 2079.97,1079.84 2091.91,1084.99 2103.77,1090.08 2115.54,1095.1 2127.24,1100.07 2138.84,1104.98 2150.37,1109.84 2161.83,1114.64 2173.2,1119.38 2184.5,1124.08 2195.72,1128.72 2206.87,1133.31 2217.95,1137.85 2228.96,1142.35 2239.9,1146.8 2250.77,1151.2 2261.57,1155.55 2272.31,1159.87 2282.98,1164.14 2293.59,1168.36 2304.13,1172.55 2314.61,1176.69 2325.03,1180.8 2335.39,1184.86" stroke="#c8af82"/><polyline points="805.17,190.32 838.15,226.57 873.48,263.53 907.54,297.53 940.45,329.01 972.3,358.32 1003.16,385.73 1033.11,411.48 1062.23,435.76 1090.56,458.72 1118.16,480.51 1145.07,501.24 1171.34,521 1197,539.88 1222.1,557.95 1246.65,575.29 1270.7,591.95 1294.27,607.98 1317.37,623.43 1340.04,638.34 1362.29,652.74 1384.15,666.66 1405.62,680.15 1426.74,693.22 1447.5,705.9 1467.94,718.21 1488.05,730.18 1507.86,741.82 1527.37,753.15 1546.6,764.18 1565.56,774.93 1584.25,785.42 1602.69,795.66 1620.88,805.65 1638.83,815.42 1656.55,824.96 1674.05,834.3 1691.34,843.43 1708.42,852.38 1725.29,861.13 1741.97,869.71 1758.46,878.13 1774.76,886.37 1790.88,894.47 1806.83,902.4 1822.61,910.2 1838.22,917.85 1853.67,925.37 1868.96,932.76 1884.1,940.02 1899.1,947.16 1913.94,954.18 1928.65,961.09 1943.21,967.88 1957.64,974.57 1971.94,981.16 1986.11,987.64 2000.16,994.03 2014.08,1000.32 2027.88,1006.52 2041.56,1012.63 2055.12,1018.66 2068.58,1024.6 2081.92,1030.46 2095.16,1036.24 2108.28,1041.94 2121.31,1047.57 2134.23,1053.12 2147.06,1058.6 2159.78,1064.01 2172.41,1069.35 2184.95,1074.63 2197.39,1079.84 2209.74,1084.99 2222,1090.08 2234.18,1095.1 2246.27,1100.07 2258.27,1104.98 2270.2,1109.84 2282.04,1114.64 2293.8,1119.38 2305.48,1124.08 2317.08,1128.72 2328.61,1133.31 2340.07,1137.85 2351.45,1142.35 2362.75,1146.8 2373.99,1151.2 2385.16,1155.55 2396.25,1159.87 2407.28,1164.14 2418.24,1168.36 2429.14,1172.55 2439.97,1176.69 2450.74,1180.8 2461.44,1184.86" stroke="#c8af82"/><polyline points="869.53,190.32 904.1,226.57 941.1,263.53 976.74,297.53 1011.14,329.01 1044.39,358.32 1076.61,385.73 1107.85,411.48 1138.2,435.76 1167.72,458.72 1196.46,480.51 1224.48,501.24 1251.82,521 1278.52,539.88 1304.61,557.95 1330.14,575.29 1355.13,591.95 1379.62,607.98 1403.62,623.43 1427.16,638.34 1450.26,652.74 1472.95,666.66 1495.24,680.15 1517.15,693.22 1538.7,705.9 1559.89,718.21 1580.76,730.18 1601.3,741.82 1621.53,753.15 1641.46,764.18 1661.11,774.93 1680.48,785.42 1699.58,795.66 1718.43,805.65 1737.03,815.42 1755.39,824.96 1773.51,834.3 1791.42,843.43 1809.1,852.38 1826.57,861.13 1843.84,869.71 1860.91,878.13 1877.78,886.37 1894.47,894.47 1910.98,902.4 1927.3,910.2 1943.46,917.85 1959.44,925.37 1975.27,932.76 1990.93,940.02 2006.44,947.16 2021.8,954.18 2037.01,961.09 2052.07,967.88 2066.99,974.57 2081.78,981.16 2096.43,987.64 2110.95,994.03 2125.35,1000.32 2139.61,1006.52 2153.76,1012.63 2167.78,1018.66 2181.69,1024.6 2195.48,1030.46 2209.16,1036.24 2222.73,1041.94 2236.19,1047.57 2249.55,1053.12 2262.8,1058.6 2275.95,1064.01 2289,1069.35 2301.95,1074.63 2314.8,1079.84 2327.57,1084.99 2340.23,1090.08 2352.81,1095.1 2365.3,1100.07 2377.7,1104.98 2390.02,1109.84 2402.25,1114.64 2414.39,1119.38 2426.46,1124.08 2438.44,1128.72 2450.35,1133.31 2462.18,1137.85 2473.93,1142.35 2485.6,1146.8 2497.21,1151.2 2508.74,1155.55 2520.19,1159.87 2531.58,1164.14 2542.9,1168.36 2554.15,1172.55 2565.33,1176.69 2576.45,1180.8 2587.5,1184.86" stroke="#c8af82"/><polyline points="933.88,190.32 970.06,226.57 1008.73,263.53 1045.94,297.53 1081.82,329.01 1116.49,358.32 1150.05,385.73 1182.59,411.48 1214.17,435.76 1244.88,458.72 1274.77,480.51 1303.89,501.24 1332.3,521 1360.03,539.88 1387.13,557.95 1413.63,575.29 1439.57,591.95 1464.97,607.98 1489.87,623.43 1514.28,638.34 1538.24,652.74 1561.76,666.66 1584.86,680.15 1607.57,693.22 1629.89,705.9 1651.85,718.21 1673.46,730.18 1694.73,741.82 1715.68,753.15 1736.32,764.18 1756.65,774.93 1776.71,785.42 1796.48,795.66 1815.98,805.65 1835.23,815.42 1854.22,824.96 1872.97,834.3 1891.49,843.43 1909.78,852.38 1927.85,861.13 1945.71,869.71 1963.36,878.13 1980.81,886.37 1998.06,894.47 2015.12,902.4 2032,910.2 2048.7,917.85 2065.22,925.37 2081.57,932.76 2097.76,940.02 2113.78,947.16 2129.65,954.18 2145.37,961.09 2160.93,967.88 2176.35,974.57 2191.62,981.16 2206.76,987.64 2221.75,994.03 2236.62,1000.32 2251.35,1006.52 2265.96,1012.63 2280.44,1018.66 2294.8,1024.6 2309.04,1030.46 2323.17,1036.24 2337.18,1041.94 2351.07,1047.57 2364.86,1053.12 2378.54,1058.6 2392.11,1064.01 2405.58,1069.35 2418.95,1074.63 2432.22,1079.84 2445.39,1084.99 2458.47,1090.08 2471.45,1095.1 2484.33,1100.07 2497.13,1104.98 2509.84,1109.84 2522.46,1114.64 2534.99,1119.38 2547.44,1124.08 2559.8,1128.72 2572.09,1133.31 2584.29,1137.85 2596.41,1142.35 2608.46,1146.8 2620.43,1151.2 2632.32,1155.55 2644.14,1159.87 2655.88,1164.14 2667.56,1168.36 2679.16,1172.55 2690.69,1176.69 2702.16,1180.8 2713.55,1184.86" stroke="#c8af82"/><polyline points="998.24,190.32 1036.02,226.57 1076.35,263.53 1115.13,297.53 1152.51,329.01 1188.59,358.32 1223.5,385.73 1257.32,411.48 1290.15,435.76 1322.04,458.72 1353.07,480.51 1383.3,501.24 1412.77,521 1441.54,539.88 1469.64,557.95 1497.12,575.29 1524,591.95 1550.32,607.98 1576.12,623.43 1601.4,638.34 1626.21,652.74 1650.56,666.66 1674.48,680.15 1697.98,693.22 1721.08,705.9 1743.8,718.21 1766.16,730.18 1788.16,741.82 1809.83,753.15 1831.17,764.18 1852.2,774.93 1872.93,785.42 1893.37,795.66 1913.54,805.65 1933.43,815.42 1953.06,824.96 1972.43,834.3 1991.57,843.43 2010.47,852.38 2029.13,861.13 2047.58,869.71 2065.81,878.13 2083.83,886.37 2101.65,894.47 2119.27,902.4 2136.69,910.2 2153.94,917.85 2170.99,925.37 2187.88,932.76 2204.59,940.02 2221.13,947.16 2237.51,954.18 2253.72,961.09 2269.79,967.88 2285.7,974.57 2301.46,981.16 2317.08,987.64 2332.55,994.03 2347.89,1000.32 2363.09,1006.52 2378.16,1012.63 2393.1,1018.66 2407.92,1024.6 2422.61,1030.46 2437.17,1036.24 2451.62,1041.94 2465.96,1047.57 2480.18,1053.12 2494.28,1058.6 2508.28,1064.01 2522.17,1069.35 2535.95,1074.63 2549.64,1079.84 2563.22,1084.99 2576.7,1090.08 2590.08,1095.1 2603.37,1100.07 2616.56,1104.98 2629.66,1109.84 2642.67,1114.64 2655.59,1119.38 2668.42,1124.08 2681.16,1128.72 2693.82,1133.31 2706.4,1137.85 2718.89,1142.35 2731.31,1146.8 2743.64,1151.2 2755.9,1155.55 2768.08,1159.87 2780.18,1164.14 2792.21,1168.36 2804.17,1172.55 2816.05,1176.69 2827.86,1180.8 2839.6,1184.86" stroke="#c8af82"/><polyline points="1062.6,190.32 1101.97,226.57 1143.98,263.53 1184.33,297.53 1223.19,329.01 1260.69,358.32 1296.95,385.73 1332.06,411.48 1366.12,435.76 1399.2,458.72 1431.38,480.51 1462.71,501.24 1493.25,521 1523.05,539.88 1552.16,557.95 1580.6,575.29 1608.43,591.95 1635.68,607.98 1662.36,623.43 1688.53,638.34 1714.19,652.74 1739.37,666.66 1764.1,680.15 1788.39,693.22 1812.27,705.9 1835.76,718.21 1858.86,730.18 1881.6,741.82 1903.98,753.15 1926.03,764.18 1947.75,774.93 1969.16,785.42 1990.27,795.66 2011.09,805.65 2031.63,815.42 2051.89,824.96 2071.89,834.3 2091.64,843.43 2111.15,852.38 2130.41,861.13 2149.45,869.71 2168.26,878.13 2186.85,886.37 2205.23,894.47 2223.41,902.4 2241.39,910.2 2259.17,917.85 2276.77,925.37 2294.18,932.76 2311.41,940.02 2328.47,947.16 2345.36,954.18 2362.08,961.09 2378.65,967.88 2395.05,974.57 2411.3,981.16 2427.4,987.64 2443.35,994.03 2459.16,1000.32 2474.83,1006.52 2490.36,1012.63 2505.76,1018.66 2521.03,1024.6 2536.17,1030.46 2551.18,1036.24 2566.07,1041.94 2580.84,1047.57 2595.49,1053.12 2610.02,1058.6 2624.45,1064.01 2638.76,1069.35 2652.96,1074.63 2667.05,1079.84 2681.04,1084.99 2694.93,1090.08 2708.71,1095.1 2722.4,1100.07 2735.99,1104.98 2749.48,1109.84 2762.88,1114.64 2776.18,1119.38 2789.4,1124.08 2802.52,1128.72 2815.56,1133.31 2828.51,1137.85 2841.38,1142.35 2854.16,1146.8 2866.86,1151.2 2879.48,1155.55 2892.02,1159.87 2904.48,1164.14 2916.87,1168.36 2929.18,1172.55 2941.41,1176.69 2953.57,1180.8 2965.66,1184.86" stroke="#c8af82"/><polyline points="1126.96,190.32 1167.93,226.57 1211.6,263.53 1253.53,297.53 1293.87,329.01 1332.79,358.32 1370.39,385.73 1406.8,411.48 1442.09,435.76 1476.37,458.72 1509.69,480.51 1542.12,501.24 1573.73,521 1604.56,539.88 1634.67,557.95 1664.09,575.29 1692.86,591.95 1721.03,607.98 1748.61,623.43 1775.65,638.34 1802.16,652.74 1828.18,666.66 1853.72,680.15 1878.81,693.22 1903.47,705.9 1927.71,718.21 1951.56,730.18 1975.03,741.82 1998.13,753.15 2020.88,764.18 2043.3,774.93 2065.39,785.42 2087.17,795.66 2108.64,805.65 2129.82,815.42 2150.73,824.96 2171.36,834.3 2191.72,843.43 2211.83,852.38 2231.69,861.13 2251.32,869.71 2270.71,878.13 2289.88,886.37 2308.82,894.47 2327.56,902.4 2346.09,910.2 2364.41,917.85 2382.54,925.37 2400.49,932.76 2418.24,940.02 2435.82,947.16 2453.22,954.18 2470.44,961.09 2487.5,967.88 2504.4,974.57 2521.14,981.16 2537.72,987.64 2554.15,994.03 2570.43,1000.32 2586.57,1006.52 2602.57,1012.63 2618.42,1018.66 2634.14,1024.6 2649.73,1030.46 2665.19,1036.24 2680.52,1041.94 2695.72,1047.57 2710.8,1053.12 2725.77,1058.6 2740.61,1064.01 2755.34,1069.35 2769.96,1074.63 2784.47,1079.84 2798.87,1084.99 2813.16,1090.08 2827.35,1095.1 2841.43,1100.07 2855.41,1104.98 2869.3,1109.84 2883.09,1114.64 2896.78,1119.38 2910.38,1124.08 2923.88,1128.72 2937.3,1133.31 2950.62,1137.85 2963.86,1142.35 2977.01,1146.8 2990.08,1151.2 3003.06,1155.55 3015.96,1159.87 3028.78,1164.14 3041.52,1168.36 3054.18,1172.55 3066.77,1176.69 3079.28,1180.8 3091.71,1184.86" stroke="#c8af82"/><polyline points="1191.32,190.32 1233.88,226.57 1279.23,263.53 1322.72,297.53 1364.56,329.01 1404.89,358.32 1443.84,385.73 1481.53,411.48 1518.07,435.76 1553.53,458.72 1587.99,480.51 1621.53,501.24 1654.21,521 1686.08,539.88 1717.18,557.95 1747.58,575.29 1777.3,591.95 1806.38,607.98 1834.86,623.43 1862.77,638.34 1890.13,652.74 1916.98,666.66 1943.34,680.15 1969.22,693.22 1994.66,705.9 2019.67,718.21 2044.26,730.18 2068.46,741.82 2092.28,753.15 2115.74,764.18 2138.85,774.93 2161.62,785.42 2184.06,795.66 2206.19,805.65 2228.02,815.42 2249.56,824.96 2270.82,834.3 2291.8,843.43 2312.51,852.38 2332.98,861.13 2353.19,869.71 2373.16,878.13 2392.9,886.37 2412.41,894.47 2431.7,902.4 2450.78,910.2 2469.65,917.85 2488.32,925.37 2506.79,932.76 2525.07,940.02 2543.16,947.16 2561.07,954.18 2578.8,961.09 2596.36,967.88 2613.75,974.57 2630.98,981.16 2648.04,987.64 2664.95,994.03 2681.71,1000.32 2698.31,1006.52 2714.77,1012.63 2731.08,1018.66 2747.25,1024.6 2763.29,1030.46 2779.19,1036.24 2794.96,1041.94 2810.6,1047.57 2826.12,1053.12 2841.51,1058.6 2856.78,1064.01 2871.93,1069.35 2886.96,1074.63 2901.88,1079.84 2916.69,1084.99 2931.39,1090.08 2945.98,1095.1 2960.46,1100.07 2974.84,1104.98 2989.12,1109.84 3003.3,1114.64 3017.37,1119.38 3031.36,1124.08 3045.24,1128.72 3059.03,1133.31 3072.73,1137.85 3086.34,1142.35 3099.86,1146.8 3113.3,1151.2 3126.64,1155.55 3139.9,1159.87 3153.08,1164.14 3166.18,1168.36 3179.19,1172.55 3192.13,1176.69 3204.99,1180.8 3217.76,1184.86" stroke="#c8af82"/><polyline points="1255.68,190.32 1299.84,226.57 1346.85,263.53 1391.92,297.53 1435.24,329.01 1476.99,358.32 1517.29,385.73 1556.27,411.48 1594.04,435.76 1630.69,458.72 1666.3,480.51 1700.94,501.24 1734.69,521 1767.59,539.88 1799.7,557.95 1831.07,575.29 1861.73,591.95 1891.73,607.98 1921.11,623.43 1949.89,638.34 1978.11,652.74 2005.79,666.66 2032.96,680.15 2059.64,693.22 2085.85,705.9 2111.62,718.21 2136.96,730.18 2161.9,741.82 2186.43,753.15 2210.6,764.18 2234.4,774.93 2257.85,785.42 2280.96,795.66 2303.75,805.65 2326.22,815.42 2348.39,824.96 2370.28,834.3 2391.87,843.43 2413.2,852.38 2434.26,861.13 2455.06,869.71 2475.61,878.13 2495.92,886.37 2516,894.47 2535.85,902.4 2555.48,910.2 2574.89,917.85 2594.09,925.37 2613.09,932.76 2631.9,940.02 2650.5,947.16 2668.93,954.18 2687.16,961.09 2705.22,967.88 2723.1,974.57 2740.82,981.16 2758.37,987.64 2775.75,994.03 2792.98,1000.32 2810.05,1006.52 2826.97,1012.63 2843.74,1018.66 2860.37,1024.6 2876.85,1030.46 2893.2,1036.24 2909.41,1041.94 2925.49,1047.57 2941.43,1053.12 2957.25,1058.6 2972.95,1064.01 2988.52,1069.35 3003.97,1074.63 3019.3,1079.84 3034.52,1084.99 3049.62,1090.08 3064.61,1095.1 3079.5,1100.07 3094.27,1104.98 3108.94,1109.84 3123.51,1114.64 3137.97,1119.38 3152.34,1124.08 3166.6,1128.72 3180.77,1133.31 3194.85,1137.85 3208.83,1142.35 3222.72,1146.8 3236.51,1151.2 3250.22,1155.55 3263.85,1159.87 3277.38,1164.14 3290.83,1168.36 3304.2,1172.55 3317.49,1176.69 3330.69,1180.8 3343.82,1184.86" stroke="#c8af82"/><polyline points="449.27,1184.86 446.09,1180.8 442.85,1176.69 439.55,1172.55" stroke="#00b400"/><polyline points="497.51,1184.86 494.62,1180.8 491.68,1176.69 488.68,1172.55 485.62,1168.36 482.5,1164.14 479.31,1159.87 476.07,1155.55 472.76,1151.2 469.39,1146.8 465.95,1142.35 462.44,1137.85 458.86,1133.31 455.2,1128.72 451.48,1124.08 447.68,1119.38 443.81,1114.64 439.86,1109.84" stroke="#00b400"/><polyline points="545.55,1184.86 543,1180.8 540.38,1176.69 537.72,1172.55 535,1168.36 532.22,1164.14 529.38,1159.87 526.48,1155.55 523.51,1151.2 520.49,1146.8 517.39,1142.35 514.23,1137.85 511.01,1133.31 507.71,1128.72 504.33,1124.08 500.89,1119.38 497.36,1114.64 493.76,1109.84 490.08,1104.98 486.32,1100.07 482.47,1095.1 478.54,1090.08 474.53,1084.99 470.42,1079.84 466.22,1074.63 461.93,1069.35 457.55,1064.01 453.07,1058.6 448.49,1053.12 443.81,1047.57 439.04,1041.94" stroke="#00b400"/><polyline points="593.47,1184.86 591.26,1180.8 589.01,1176.69 586.7,1172.55 584.35,1168.36 581.94,1164.14 579.47,1159.87 576.95,1155.55 574.37,1151.2 571.73,1146.8 569.03,1142.35 566.27,1137.85 563.44,1133.31 560.55,1128.72 557.58,1124.08 554.55,1119.38 551.44,1114.64 548.25,1109.84 544.99,1104.98 541.65,1100.07 538.22,1095.1 534.72,1090.08 531.12,1084.99 527.44,1079.84 523.66,1074.63 519.79,1069.35 515.83,1064.01 511.76,1058.6 507.59,1053.12 503.32,1047.57 498.95,1041.94 494.46,1036.24 489.87,1030.46 485.16,1024.6 480.33,1018.66 475.39,1012.63 470.32,1006.52 465.14,1000.32 459.82,994.03 454.38,987.64 448.82,981.16 443.12,974.57 437.29,967.88" stroke="#00b400"/><polyline points="641.32,1184.86 639.48,1180.8 637.59,1176.69 635.66,1172.55 633.68,1168.36 631.66,1164.14 629.59,1159.87 627.46,1155.55 625.29,1151.2 623.07,1146.8 620.79,1142.35 618.45,1137.85 616.05,1133.31 613.6,1128.72 611.08,1124.08 608.5,1119.38 605.85,1114.64 603.13,1109.84 600.34,1104.98 597.48,1100.07 594.54,1095.1 591.52,1090.08 588.42,1084.99 585.24,1079.84 581.97,1074.63 578.61,1069.35 575.15,1064.01 571.6,1058.6 567.95,1053.12 564.2,1047.57 560.35,1041.94 556.38,1036.24 552.31,1030.46 548.12,1024.6 543.8,1018.66 539.37,1012.63 534.81,1006.52 530.13,1000.32 525.3,994.03 520.35,987.64 515.25,981.16 510.01,974.57 504.63,967.88 499.09,961.09 493.4,954.18 487.56,947.16 481.56,940.02 475.4,932.76 469.07,925.37 462.58,917.85 455.92,910.2 449.09,902.4 442.09,894.47 434.92,886.37" stroke="#00b400"/><polyline points="183.16,480.51 196.66,501.24 209.94,521 223.02,539.88 235.89,557.95 248.56,575.29 261.03,591.95 273.29,607.98 285.34,623.43 297.2,638.34 308.85,652.74 320.3,666.66 331.54,680.15 342.58,693.22 353.41,705.9 364.03,718.21 374.44,730.18 384.64,741.82 394.62,753.15 404.38,764.18 413.93,774.93 423.25,785.42 432.35,795.66 441.23,805.65 449.89,815.42 458.33,824.96 466.55,834.3 474.54,843.43 482.31,852.38 489.87,861.13 497.21,869.71 504.34,878.13 511.26,886.37 517.97,894.47 524.48,902.4 530.79,910.2 536.91,917.85 542.84,925.37 548.58,932.76 554.14,940.02 559.53,947.16 564.74,954.18 569.8,961.09 574.69,967.88 579.42,974.57 584.01,981.16 588.45,987.64 592.75,994.03 596.91,1000.32 600.95,1006.52 604.85,1012.63 608.64,1018.66 612.31,1024.6 615.87,1030.46 619.31,1036.24 622.65,1041.94 625.9,1047.57 629.04,1053.12 632.09,1058.6 635.05,1064.01 637.93,1069.35 640.72,1074.63 643.43,1079.84 646.06,1084.99 648.62,1090.08 651.11,1095.1 653.53,1100.07 655.88,1104.98 658.16,1109.84 660.39,1114.64 662.56,1119.38 664.67,1124.08 666.72,1128.72 668.72,1133.31 670.67,1137.85 672.57,1142.35 674.42,1146.8 676.22,1151.2 677.98,1155.55 679.7,1159.87 681.38,1164.14 683.01,1168.36 684.61,1172.55 686.17,1176.69 687.69,1180.8 689.18,1184.86" stroke="#00b400"/><polyline points="261.44,480.51 275.99,501.24 290.27,521 304.3,539.88 318.06,557.95 331.57,575.29 344.81,591.95 357.8,607.98 370.52,623.43 382.97,638.34 395.15,652.74 407.07,666.66 418.7,680.15 430.06,693.22 441.13,705.9 451.93,718.21 462.43,730.18 472.64,741.82 482.57,753.15 492.2,764.18 501.54,774.93 510.59,785.42 519.36,795.66 527.83,805.65 536.03,815.42 543.95,824.96 551.59,834.3 558.97,843.43 566.08,852.38 572.94,861.13 579.55,869.71 585.92,878.13 592.06,886.37 597.97,894.47 603.66,902.4 609.14,910.2 614.41,917.85 619.49,925.37 624.38,932.76 629.09,940.02 633.63,947.16 638,954.18 642.21,961.09 646.27,967.88 650.18,974.57 653.96,981.16 657.6,987.64 661.1,994.03 664.49,1000.32 667.76,1006.52 670.92,1012.63 673.97,1018.66 676.91,1024.6 679.76,1030.46 682.52,1036.24 685.18,1041.94 687.76,1047.57 690.25,1053.12 692.66,1058.6 695,1064.01 697.27,1069.35 699.47,1074.63 701.6,1079.84 703.66,1084.99 705.67,1090.08 707.61,1095.1 709.5,1100.07 711.34,1104.98 713.12,1109.84 714.85,1114.64 716.54,1119.38 718.17,1124.08 719.77,1128.72 721.32,1133.31 722.83,1137.85 724.3,1142.35 725.73,1146.8 727.12,1151.2 728.48,1155.55 729.8,1159.87 731.1,1164.14 732.36,1168.36 733.59,1172.55 734.79,1176.69 735.96,1180.8 737.1,1184.86" stroke="#00b400"/><polyline points="353.42,480.51 369.12,501.24 384.47,521 399.48,539.88 414.13,557.95 428.43,575.29 442.37,591.95 455.95,607.98 469.15,623.43 481.97,638.34 494.41,652.74 506.45,666.66 518.11,680.15 529.37,693.22 540.24,705.9 550.71,718.21 560.79,730.18 570.48,741.82 579.78,753.15 588.71,764.18 597.27,774.93 605.47,785.42 613.32,795.66 620.83,805.65 628.01,815.42 634.88,824.96 641.45,834.3 647.72,843.43 653.72,852.38 659.45,861.13 664.92,869.71 670.16,878.13 675.16,886.37 679.95,894.47 684.53,902.4 688.9,910.2 693.1,917.85 697.11,925.37 700.95,932.76 704.64,940.02 708.17,947.16 711.55,954.18 714.8,961.09 717.92,967.88 720.92,974.57 723.79,981.16 726.56,987.64 729.22,994.03 731.78,1000.32 734.24,1006.52 736.61,1012.63 738.9,1018.66 741.1,1024.6 743.23,1030.46 745.28,1036.24 747.26,1041.94 749.17,1047.57 751.02,1053.12 752.8,1058.6 754.53,1064.01 756.2,1069.35 757.81,1074.63 759.37,1079.84 760.89,1084.99 762.36,1090.08 763.78,1095.1 765.16,1100.07 766.5,1104.98 767.8,1109.84 769.06,1114.64 770.28,1119.38 771.47,1124.08 772.63,1128.72 773.75,1133.31 774.84,1137.85 775.91,1142.35 776.94,1146.8 777.95,1151.2 778.93,1155.55 779.89,1159.87 780.82,1164.14 781.72,1168.36 782.61,1172.55 783.47,1176.69 784.31,1180.8 785.14,1184.86" stroke="#00b400"/><polyline points="462.64,480.51 479.45,501.24 495.76,521 511.54,539.88 526.8,557.95 541.52,575.29 555.69,591.95 569.31,607.98 582.37,623.43 594.86,638.34 606.79,652.74 618.16,666.66 628.99,680.15 639.28,693.22 649.05,705.9 658.32,718.21 667.09,730.18 675.4,741.82 683.26,753.15 690.7,764.18 697.73,774.93 704.39,785.42 710.67,795.66 716.62,805.65 722.25,815.42 727.58,824.96 732.62,834.3 737.39,843.43 741.92,852.38 746.21,861.13 750.28,869.71 754.14,878.13 757.81,886.37 761.3,894.47 764.61,902.4 767.77,910.2 770.78,917.85 773.64,925.37 776.37,932.76 778.98,940.02 781.47,947.16 783.84,954.18 786.11,961.09 788.29,967.88 790.37,974.57 792.36,981.16 794.27,987.64 796.1,994.03 797.86,1000.32 799.54,1006.52 801.16,1012.63 802.72,1018.66 804.22,1024.6 805.66,1030.46 807.05,1036.24 808.38,1041.94 809.67,1047.57 810.91,1053.12 812.1,1058.6 813.26,1064.01 814.37,1069.35 815.45,1074.63 816.49,1079.84 817.49,1084.99 818.47,1090.08 819.41,1095.1 820.32,1100.07 821.2,1104.98 822.06,1109.84 822.88,1114.64 823.69,1119.38 824.46,1124.08 825.22,1128.72 825.95,1133.31 826.67,1137.85 827.36,1142.35 828.03,1146.8 828.68,1151.2 829.32,1155.55 829.94,1159.87 830.54,1164.14 831.12,1168.36 831.69,1172.55 832.25,1176.69 832.79,1180.8 833.31,1184.86" stroke="#00b400"/><polyline points="592.39,480.51 609.67,501.24 626.13,521 641.75,539.88 656.52,557.95 670.45,575.29 683.54,591.95 695.83,607.98 707.33,623.43 718.08,638.34 728.1,652.74 737.45,666.66 746.16,680.15 754.28,693.22 761.83,705.9 768.87,718.21 775.42,730.18 781.53,741.82 787.22,753.15 792.53,764.18 797.49,774.93 802.13,785.42 806.47,795.66 810.53,805.65 814.33,815.42 817.9,824.96 821.25,834.3 824.4,843.43 827.36,852.38 830.15,861.13 832.78,869.71 835.26,878.13 837.6,886.37 839.81,894.47 841.9,902.4 843.88,910.2 845.75,917.85 847.53,925.37 849.21,932.76 850.81,940.02 852.33,947.16 853.77,954.18 855.15,961.09 856.46,967.88 857.71,974.57 858.89,981.16 860.03,987.64 861.11,994.03 862.14,1000.32 863.13,1006.52 864.08,1012.63 864.98,1018.66 865.85,1024.6 866.68,1030.46 867.47,1036.24 868.23,1041.94 868.96,1047.57 869.66,1053.12 870.34,1058.6 870.98,1064.01 871.61,1069.35 872.2,1074.63 872.78,1079.84 873.33,1084.99 873.87,1090.08 874.38,1095.1 874.87,1100.07 875.35,1104.98 875.81,1109.84 876.25,1114.64 876.68,1119.38 877.1,1124.08 877.5,1128.72 877.88,1133.31 878.26,1137.85 878.62,1142.35 878.97,1146.8 879.3,1151.2 879.63,1155.55 879.95,1159.87 880.26,1164.14 880.55,1168.36 880.84,1172.55 881.12,1176.69 881.4,1180.8 881.66,1184.86" stroke="#00b400"/><polyline points="741.59,480.51 757.19,501.24 771.5,521 784.59,539.88 796.53,557.95 807.41,575.29 817.31,591.95 826.31,607.98 834.5,623.43 841.95,638.34 848.73,652.74 854.92,666.66 860.56,680.15 865.71,693.22 870.43,705.9 874.75,718.21 878.71,730.18 882.35,741.82 885.7,753.15 888.79,764.18 891.63,774.93 894.26,785.42 896.68,795.66 898.93,805.65 901.01,815.42 902.94,824.96 904.74,834.3 906.4,843.43 907.95,852.38 909.4,861.13 910.74,869.71 912,878.13 913.17,886.37 914.26,894.47 915.29,902.4 916.24,910.2 917.14,917.85 917.97,925.37 918.76,932.76 919.5,940.02 920.18,947.16 920.83,954.18 921.44,961.09 922.01,967.88 922.55,974.57 923.05,981.16 923.52,987.64 923.96,994.03 924.38,1000.32 924.77,1006.52 925.14,1012.63 925.49,1018.66 925.82,1024.6 926.12,1030.46 926.41,1036.24 926.68,1041.94 926.94,1047.57 927.18,1053.12 927.4,1058.6 927.62,1064.01 927.82,1069.35 928,1074.63 928.18,1079.84 928.34,1084.99 928.5,1090.08 928.64,1095.1 928.78,1100.07 928.91,1104.98 929.03,1109.84 929.14,1114.64 929.25,1119.38 929.34,1124.08 929.44,1128.72 929.52,1133.31 929.6,1137.85 929.68,1142.35 929.75,1146.8 929.81,1151.2 929.87,1155.55 929.93,1159.87 929.98,1164.14 930.02,1168.36 930.07,1172.55 930.11,1176.69 930.14,1180.8 930.18,1184.86" stroke="#00b400"/><polyline points="896.67,480.51 907.13,501.24 916.3,521 924.33,539.88 931.37,557.95 937.57,575.29 943.02,591.95 947.83,607.98 952.09,623.43 955.85,638.34 959.19,652.74 962.16,666.66 964.8,680.15 967.15,693.22 969.24,705.9 971.11,718.21 972.78,730.18 974.27,741.82 975.6,753.15 976.79,764.18 977.85,774.93 978.8,785.42 979.64,795.66 980.4,805.65 981.06,815.42 981.65,824.96 982.18,834.3 982.64,843.43 983.04,852.38 983.4,861.13 983.7,869.71 983.97,878.13 984.19,886.37 984.39,894.47 984.54,902.4 984.67,910.2 984.77,917.85 984.85,925.37 984.91,932.76 984.94,940.02 984.96,947.16 984.95,954.18 984.94,961.09 984.9,967.88 984.86,974.57 984.8,981.16 984.73,987.64 984.65,994.03 984.56,1000.32 984.47,1006.52 984.36,1012.63 984.25,1018.66 984.13,1024.6 984.01,1030.46 983.88,1036.24 983.74,1041.94 983.6,1047.57 983.46,1053.12 983.31,1058.6 983.16,1064.01 983.01,1069.35 982.85,1074.63 982.7,1079.84 982.54,1084.99 982.38,1090.08 982.21,1095.1 982.05,1100.07 981.88,1104.98 981.72,1109.84 981.55,1114.64 981.38,1119.38 981.21,1124.08 981.04,1128.72 980.87,1133.31 980.71,1137.85 980.54,1142.35 980.37,1146.8 980.2,1151.2 980.03,1155.55 979.86,1159.87 979.7,1164.14 979.53,1168.36 979.36,1172.55 979.2,1176.69 979.03,1180.8 978.87,1184.86" stroke="#00b400"/><polyline points="621.67,910.2 617.17,917.85 612.75,925.37 608.42,932.76 604.17,940.02 599.99,947.16 595.89,954.18 591.86,961.09 587.89,967.88 584,974.57 580.16,981.16 576.39,987.64 572.68,994.03 569.03,1000.32 565.44,1006.52 561.9,1012.63 558.41,1018.66 554.98,1024.6 551.59,1030.46 548.26,1036.24 544.97,1041.94 541.73,1047.57 538.54,1053.12 535.39,1058.6 532.28,1064.01 529.21,1069.35 526.19,1074.63 523.2,1079.84 520.25,1084.99 517.34,1090.08 514.47,1095.1 511.64,1100.07 508.83,1104.98 506.07,1109.84 503.33,1114.64 500.63,1119.38 497.96,1124.08 495.32,1128.72 492.72,1133.31 490.14,1137.85 487.59,1142.35 485.07,1146.8 482.58,1151.2 480.11,1155.55 477.68,1159.87 475.27,1164.14 472.88,1168.36 470.52,1172.55 468.18,1176.69 465.87,1180.8 463.58,1184.86" stroke="#00b400" stroke-dasharray="8,6"/><polyline points="683.37,910.2 678.99,917.85 674.69,925.37 670.47,932.76 666.34,940.02 662.27,947.16 658.28,954.18 654.36,961.09 650.5,967.88 646.71,974.57 642.98,981.16 639.31,987.64 635.71,994.03 632.15,1000.32 628.66,1006.52 625.22,1012.63 621.83,1018.66 618.49,1024.6 615.2,1030.46 611.96,1036.24 608.77,1041.94 605.62,1047.57 602.52,1053.12 599.46,1058.6 596.44,1064.01 593.46,1069.35 590.52,1074.63 587.62,1079.84 584.76,1084.99 581.94,1090.08 579.15,1095.1 576.39,1100.07 573.67,1104.98 570.99,1109.84 568.33,1114.64 565.71,1119.38 563.12,1124.08 560.56,1128.72 558.03,1133.31 555.53,1137.85 553.06,1142.35 550.61,1146.8 548.2,1151.2 545.81,1155.55 543.44,1159.87 541.1,1164.14 538.79,1168.36 536.5,1172.55 534.24,1176.69 532,1180.8 529.78,1184.86" stroke="#00b400" stroke-dasharray="8,6"/><polyline points="764.84,910.2 760.63,917.85 756.49,925.37 752.43,932.76 748.44,940.02 744.53,947.16 740.69,954.18 736.91,961.09 733.2,967.88 729.56,974.57 725.97,981.16 722.44,987.64 718.98,994.03 715.56,1000.32 712.2,1006.52 708.89,1012.63 705.64,1018.66 702.43,1024.6 699.27,1030.46 696.16,1036.24 693.09,1041.94 690.07,1047.57 687.09,1053.12 684.15,1058.6 681.25,1064.01 678.39,1069.35 675.57,1074.63 672.79,1079.84 670.04,1084.99 667.33,1090.08 664.65,1095.1 662.01,1100.07 659.41,1104.98 656.83,1109.84 654.28,1114.64 651.77,1119.38 649.29,1124.08 646.84,1128.72 644.41,1133.31 642.01,1137.85 639.65,1142.35 637.3,1146.8 634.99,1151.2 632.7,1155.55 630.43,1159.87 628.2,1164.14 625.98,1168.36 623.79,1172.55 621.62,1176.69 619.48,1180.8 617.35,1184.86" stroke="#00b400" stroke-dasharray="8,6"/><polyline points="843.66,910.2 839.6,917.85 835.62,925.37 831.72,932.76 827.89,940.02 824.13,947.16 820.43,954.18 816.8,961.09 813.24,967.88 809.73,974.57 806.29,981.16 802.9,987.64 799.57,994.03 796.29,1000.32 793.07,1006.52 789.89,1012.63 786.77,1018.66 783.69,1024.6 780.66,1030.46 777.67,1036.24 774.73,1041.94 771.83,1047.57 768.97,1053.12 766.16,1058.6 763.38,1064.01 760.64,1069.35 757.94,1074.63 755.27,1079.84 752.64,1084.99 750.04,1090.08 747.48,1095.1 744.95,1100.07 742.45,1104.98 739.99,1109.84 737.55,1114.64 735.15,1119.38 732.77,1124.08 730.42,1128.72 728.1,1133.31 725.81,1137.85 723.54,1142.35 721.3,1146.8 719.09,1151.2 716.9,1155.55 714.74,1159.87 712.6,1164.14 710.48,1168.36 708.38,1172.55 706.31,1176.69 704.26,1180.8 702.24,1184.86" stroke="#00b400" stroke-dasharray="8,6"/><polyline points="914.69,910.2 910.78,917.85 906.94,925.37 903.18,932.76 899.49,940.02 895.87,947.16 892.32,954.18 888.82,961.09 885.39,967.88 882.02,974.57 878.71,981.16 875.45,987.64 872.25,994.03 869.09,1000.32 865.99,1006.52 862.94,1012.63 859.94,1018.66 856.98,1024.6 854.07,1030.46 851.2,1036.24 848.37,1041.94 845.59,1047.57 842.84,1053.12 840.14,1058.6 837.47,1064.01 834.84,1069.35 832.25,1074.63 829.69,1079.84 827.16,1084.99 824.67,1090.08 822.21,1095.1 819.79,1100.07 817.39,1104.98 815.03,1109.84 812.69,1114.64 810.39,1119.38 808.11,1124.08 805.86,1128.72 803.64,1133.31 801.44,1137.85 799.27,1142.35 797.13,1146.8 795.01,1151.2 792.91,1155.55 790.84,1159.87 788.79,1164.14 786.76,1168.36 784.76,1172.55 782.78,1176.69 780.82,1180.8 778.88,1184.86" stroke="#00b400" stroke-dasharray="8,6"/><polyline points="966.79,910.2 962.99,917.85 959.26,925.37 955.61,932.76 952.02,940.02 948.51,947.16 945.05,954.18 941.66,961.09 938.33,967.88 935.06,974.57 931.84,981.16 928.68,987.64 925.57,994.03 922.52,1000.32 919.51,1006.52 916.55,1012.63 913.64,1018.66 910.77,1024.6 907.94,1030.46 905.16,1036.24 902.42,1041.94 899.73,1047.57 897.07,1053.12 894.44,1058.6 891.86,1064.01 889.31,1069.35 886.8,1074.63 884.32,1079.84 881.88,1084.99 879.47,1090.08 877.09,1095.1 874.74,1100.07 872.42,1104.98 870.13,1109.84 867.87,1114.64 865.64,1119.38 863.44,1124.08 861.26,1128.72 859.11,1133.31 856.99,1137.85 854.89,1142.35 852.81,1146.8 850.76,1151.2 848.74,1155.55 846.74,1159.87 844.75,1164.14 842.8,1168.36 840.86,1172.55 838.94,1176.69 837.05,1180.8 835.18,1184.86" stroke="#00b400" stroke-dasharray="8,6"/><polyline points="1008.14,910.2 1004.43,917.85 1000.8,925.37 997.23,932.76 993.73,940.02 990.3,947.16 986.93,954.18 983.62,961.09 980.37,967.88 977.18,974.57 974.04,981.16 970.96,987.64 967.93,994.03 964.94,1000.32 962.01,1006.52 959.12,1012.63 956.28,1018.66 953.49,1024.6 950.74,1030.46 948.03,1036.24 945.36,1041.94 942.73,1047.57 940.14,1053.12 937.58,1058.6 935.07,1064.01 932.59,1069.35 930.14,1074.63 927.73,1079.84 925.35,1084.99 923,1090.08 920.68,1095.1 918.4,1100.07 916.14,1104.98 913.91,1109.84 911.72,1114.64 909.54,1119.38 907.4,1124.08 905.28,1128.72 903.19,1133.31 901.13,1137.85 899.09,1142.35 897.07,1146.8 895.07,1151.2 893.1,1155.55 891.16,1159.87 889.23,1164.14 887.33,1168.36 885.45,1172.55 883.58,1176.69 881.74,1180.8 879.92,1184.86" stroke="#00b400" stroke-dasharray="8,6"/><polyline points="1042.53,910.2 1038.89,917.85 1035.33,925.37 1031.84,932.76 1028.41,940.02 1025.05,947.16 1021.75,954.18 1018.51,961.09 1015.33,967.88 1012.2,974.57 1009.13,981.16 1006.11,987.64 1003.14,994.03 1000.23,1000.32 997.36,1006.52 994.53,1012.63 991.75,1018.66 989.02,1024.6 986.33,1030.46 983.68,1036.24 981.07,1041.94 978.5,1047.57 975.96,1053.12 973.47,1058.6 971.01,1064.01 968.58,1069.35 966.19,1074.63 963.83,1079.84 961.51,1084.99 959.21,1090.08 956.95,1095.1 954.72,1100.07 952.51,1104.98 950.34,1109.84 948.19,1114.64 946.07,1119.38 943.98,1124.08 941.91,1128.72 939.87,1133.31 937.85,1137.85 935.86,1142.35 933.89,1146.8 931.94,1151.2 930.02,1155.55 928.12,1159.87 926.24,1164.14 924.38,1168.36 922.55,1172.55 920.73,1176.69 918.93,1180.8 917.16,1184.86" stroke="#00b400" stroke-dasharray="8,6"/></g><rect x="146" y="871" width="303" height="313" fill="#fefefe"/><polygon points="145,186 1009,186 1009,775 1204,965 1204,1185 145,1185" fill="none" stroke="#000" stroke-width="1" shape-rendering="crispEdges" transform="translate(0.5,0.5)"/><line x1="1138.5" y1="186" x2="1138.5" y2="1185" stroke="#000" stroke-width="1.5" shape-rendering="crispEdges"/><path d="M262 870L272 859 M286.85 870L296.85 859 M311.7 870L321.7 859 M336.55 870L346.55 859 M386.25 870L396.25 859 M411.1 870L421.1 859 M435.95 870L445.95 859 M460.8 870L470.8 859 M510.5 870L520.5 859 M535.35 870L545.35 859 M560.2 870L570.2 859 M585.05 870L595.05 859 M634.75 870L644.75 859 M659.6 870L669.6 859 M684.45 870L694.45 859 M709.3 870L719.3 859 M759 870L769 859 M783.85 870L793.85 859 M808.7 870L818.7 859 M833.55 870L843.55 859 M883.25 870L893.25 859 M908.1 870L918.1 859 M932.95 870L942.95 859 M957.8 870L967.8 859" stroke="#000" stroke-width="1.3" fill="none"/><path d="M690.4 878.6H719.7M612 1070.5H641" stroke="#000" stroke-width="2" fill="none" shape-rendering="crispEdges"/><polyline points="723.5,203.9 670.7,239.3 626.7,275.3 602.7,311.3 593.3,346 565.3,380.7 522.7,416.7 466.7,450 444.5,486 464.7,521.3 510,573.3 524.7,589.3 568.7,652 591.3,685.3 604.7,718.7 611.3,748 611.3,777.3 595.3,836 607.3,869.3 626,900 646,924 659.3,950.7 659.3,978.7 632.2,1010.2 607,1032.9 610.8,1053 615.8,1074.5 608.3,1093.4 603.2,1116 600.7,1138.7 604.5,1153.8 617,1165.1 630.9,1172.7" fill="none" stroke="#ff0000" stroke-width="3"/><polyline points="455.2,204.7 436,239.3 417.3,280.7 384,346 377.3,382 373.3,447.3 385.3,483.3 387.3,488 418,521.3 462,586.7 495.3,617.3 531.3,653.3 558,686.7 570,720 575.3,746.7 574,776 562,809.3 556.7,836 574,869.3 594,890.7 624.7,922.7 644.7,952 651.3,978.7 615.8,1006.4 386.6,1079.5 365.2,1094.6 355.1,1116 382.8,1131.1 447.1,1152.5 487,1158.6 482,1171.9" fill="none" stroke="#00ff00" stroke-width="3"/><path d="M1138.5 206L1084.3 215M1084.3 215L1079.59 200.07L1092.78 213.59ZM1099.2 212.53L1091.28 198.43M1106.69 211.28L1098.78 197.19 M1138.5 240.7L1081.7 265.3M1081.7 265.3L1073.52 251.95L1089.59 261.88ZM1095.56 259.3L1084.47 247.54M1102.53 256.28L1091.44 244.52M1109.5 253.26L1098.42 241.5M1116.48 250.24L1110.93 244.36 M1138.5 275.4L1087.5 311.25M1087.5 311.25L1076.79 299.83L1094.54 306.3ZM1099.85 302.57L1086.61 293.29M1106.07 298.2L1092.83 288.92M1112.29 293.83L1099.05 284.55M1118.51 289.45L1111.89 284.82 M1138.5 311.7L1092.5 352.5M1092.5 352.5L1080.57 342.36L1098.93 346.79ZM1103.8 342.48L1089.6 334.76M1109.48 337.44L1095.28 329.72M1115.17 332.39L1100.97 324.67M1120.85 327.35L1113.75 323.49 M1138.5 346.5L1089 383M1089 383L1078.03 371.83L1095.92 377.9ZM1101.15 374.04L1087.71 365.07M1107.27 369.53L1093.82 360.56M1113.39 365.02L1099.94 356.05 M1138.5 381.5L1074.5 410M1074.5 410L1066.18 396.74L1082.36 406.5ZM1088.29 403.86L1077.09 392.21M1095.24 400.77L1084.03 389.12M1102.18 397.67L1090.97 386.03M1109.12 394.58L1097.91 382.93M1116.07 391.49L1110.46 385.67 M1138.5 416.6L1078.6 440.2M1078.6 440.2L1070.87 426.59L1086.6 437.05ZM1087.62 436.64L1079.9 423.03L1095.63 433.49ZM1101.67 431.11L1090.98 418.98M1108.74 428.32L1098.06 416.2 M1138.5 451.5L1086.5 480M1086.5 480L1077.12 467.47L1094.04 475.87ZM1095.01 475.34L1085.63 462.8L1102.55 471.2ZM1103.51 470.68L1094.13 458.14L1111.05 466.54Z M1138.5 487.5L1088.5 519M1088.5 519L1078.38 507.06L1095.78 514.42ZM1096.71 513.83L1086.58 501.89L1103.98 509.25ZM1104.91 508.66L1094.79 496.72L1112.19 504.07ZM1117.69 500.61L1111.31 495.65 M1138.5 521.5L1089.5 555M1089.5 555L1078.94 543.45L1096.6 550.15ZM1097.51 549.53L1086.94 537.97L1104.61 544.67ZM1105.51 544.05L1094.95 532.5L1112.61 539.2Z M1138.5 555.8L1072.5 601.5M1072.5 601.5L1061.87 590.01L1079.57 596.6ZM1080.47 595.98L1069.84 584.49L1087.55 591.08ZM1092.89 587.38L1079.71 578.02M1099.14 583.06L1085.96 573.69M1105.39 578.73L1092.21 569.36M1111.63 574.4L1098.46 565.04M1117.88 570.08L1111.3 565.39 M1138.5 589.5L1074 635.5M1074 635.5L1063.21 624.16L1081 630.51ZM1081.9 629.87L1071.11 618.53L1088.9 624.87ZM1094.19 621.1L1080.89 611.92M1100.38 616.69L1087.08 607.51M1106.57 612.27L1093.26 603.09M1112.75 607.86L1099.45 598.68 M1138.5 622.5L1082.5 667M1082.5 667L1071.13 656.23L1089.23 661.65ZM1090.09 660.97L1078.73 650.2L1096.83 655.61ZM1101.92 651.57L1088.15 643.09M1107.87 646.84L1094.1 638.36M1113.82 642.11L1100.05 633.64M1119.77 637.39L1112.89 633.15 M1138.5 654.5L1085.5 703M1085.5 703L1073.41 693.05L1091.84 697.19ZM1092.66 696.45L1080.57 686.5L1099 690.65ZM1103.8 686.26L1089.48 678.76M1109.4 681.13L1095.08 673.63M1115.01 676L1100.69 668.5M1120.62 670.87L1113.46 667.12 M1138.5 686L1088 737M1088 737L1075.44 727.66L1094.05 730.89ZM1094.83 730.11L1082.26 720.76L1100.88 724ZM1105.45 719.38L1090.78 712.59M1110.8 713.98L1096.13 707.19M1116.14 708.58L1101.47 701.79 M1138.5 718.5L1099 758M1099 758L1086.48 748.6L1105.08 751.92ZM1105.86 751.14L1093.34 741.74L1111.94 745.06ZM1116.54 740.46L1101.9 733.6M1121.91 735.09L1114.59 731.66 M1138.5 748.5L1100.5 778.5M1100.5 778.5L1089.17 767.7L1107.25 773.17ZM1108.11 772.49L1096.78 761.69L1114.86 767.16ZM1119.97 763.13L1113.1 758.87 M1138.5 778.5L1075.5 808M1075.5 808L1066.93 794.9L1083.29 804.35ZM1089.18 801.6L1077.75 790.16M1096.06 798.37L1084.63 786.94M1102.94 795.15L1091.51 783.72M1109.82 791.93L1098.4 780.49M1116.71 788.71L1110.99 782.99 M1138.5 808.5L1078.5 827M1078.5 827L1071.83 812.84L1086.72 824.47ZM1092.93 822.55L1083.2 809.65M1100.19 820.31L1090.46 807.41M1107.45 818.07L1097.72 805.17 M1138.5 839L1094.5 854.5M1094.5 854.5L1087.27 840.61L1102.61 851.64ZM1108.74 849.48L1098.5 836.97 M1138.5 867.5L1106.5 890M1106.5 890L1095.79 878.59L1113.54 885.05Z M1138.5 897L1110.5 923M1110.5 923L1098.34 913.14L1116.8 917.15ZM1121.57 912.73L1114.38 909.03 M1138.5 925L1110.5 951M1110.5 951L1098.34 941.14L1116.8 945.15ZM1121.57 940.73L1114.38 937.03 M1138.5 952.5L1107.5 976M1107.5 976L1096.38 964.98L1114.35 970.8ZM1119.53 966.88L1112.75 962.48 M1138.5 980L1093.5 1011M1093.5 1011L1080.35 1001.6M1099.76 1006.69L1086.61 997.29M1106.02 1002.38L1092.86 992.98M1112.28 998.07L1099.12 988.67M1118.53 993.75L1111.96 989.06 M1138.5 1006.5L1097.5 1029.5M1097.5 1029.5L1085.27 1018.93M1104.13 1025.78L1091.89 1015.22M1110.76 1022.06L1098.52 1011.5M1117.38 1018.35L1111.27 1013.06 M1138.5 1033.5L1101.25 1046.25M1101.25 1046.25L1091.12 1033.65M1108.44 1043.79L1098.31 1031.19M1115.63 1041.33L1110.57 1035.03 M1138.3 1061L1099.7 1067L1090.7 1052 M1105.5 1066L1098.7 1051.3 M1104.3 1060.3L1107 1075.7 M1113.7 1061.3L1112.3 1075 M1138.3 1079.7L1107 1075.7 M1128.3 1079L1125.7 1085 M1139 1091L1110.3 1076.3L1137.7 1118.3 M1133 1091L1137.7 1105 M1131.7 1088.3L1139.7 1091L1133 1097Z M1139.3 1130.3L1160.3 1120.7 M1139.3 1141.7L1168.7 1132.7L1166.7 1141 M1139.3 1150.7L1161 1136.7L1166.5 1141.5 M1139.3 1157.7L1162.7 1142.7L1166 1147 M1139.3 1163.3L1161.3 1148.7L1165 1153 M1139.3 1167.3L1161.3 1155.3L1164.5 1160 M1139.3 1170.7L1160 1157.3L1164.7 1164" fill="none" stroke="#000" stroke-width="1.8" stroke-linejoin="miter"/><g transform="matrix(1.07451,0,0,0.99861,-6.010,0.229)"><text x="81" y="26" font-family="Liberation Serif, serif" font-size="26" fill="#000" text-anchor="start" letter-spacing="2.2" stroke="#fff" stroke-width="0.45">Init: 00 UTC Thu 03 Dec 09</text></g><g transform="matrix(1.07079,0,0,1.01269,-74.325,-0.631)"><text x="1064" y="26" font-family="Liberation Serif, serif" font-size="26" fill="#000" text-anchor="start" letter-spacing="2.2" stroke="#fff" stroke-width="0.45">Fcst:</text></g><g transform="matrix(1.01204,0,0,1.01269,-11.878,-0.631)"><text x="1166" y="26" font-family="Liberation Serif, serif" font-size="26" fill="#000" text-anchor="start" letter-spacing="2.2" stroke="#fff" stroke-width="0.45">65</text></g><g transform="matrix(1.27750,0,0,0.98233,-336.244,0.172)"><text x="1212" y="26" font-family="Liberation Serif, serif" font-size="26" fill="#000" text-anchor="start" stroke="#fff" stroke-width="0.45">h</text></g><g transform="matrix(1.07863,0,0,1.02922,-40.793,-0.964)"><text x="543" y="51" font-family="Liberation Serif, serif" font-size="26" fill="#000" text-anchor="start" letter-spacing="2.2" stroke="#fff" stroke-width="0.45">Valid: 17 UTC Sat 05 Dec 09 (12 EST Sat 05 Dec 09)</text></g><g transform="matrix(1.06595,0,0,1.07085,-7.463,-13.468)"><text x="138" y="194.09" font-family="Liberation Serif, serif" font-size="24" fill="#000" text-anchor="end" letter-spacing="2" stroke="#fff" stroke-width="0.45">100</text></g><g transform="matrix(1.06595,0,0,1.07085,-7.463,-25.967)"><text x="138" y="366.32" font-family="Liberation Serif, serif" font-size="24" fill="#000" text-anchor="end" letter-spacing="2" stroke="#fff" stroke-width="0.45">150</text></g><g transform="matrix(1.03862,0,0,1.07085,-3.746,-34.076)"><text x="138" y="488.51" font-family="Liberation Serif, serif" font-size="24" fill="#000" text-anchor="end" letter-spacing="2" stroke="#fff" stroke-width="0.45">200</text></g><g transform="matrix(1.03862,0,0,1.07085,-3.746,-41.408)"><text x="138" y="583.29" font-family="Liberation Serif, serif" font-size="24" fill="#000" text-anchor="end" letter-spacing="2" stroke="#fff" stroke-width="0.45">250</text></g><g transform="matrix(1.03862,0,0,1.07085,-3.746,-46.637)"><text x="138" y="660.74" font-family="Liberation Serif, serif" font-size="24" fill="#000" text-anchor="end" letter-spacing="2" stroke="#fff" stroke-width="0.45">300</text></g><g transform="matrix(1.01265,0,0,1.07085,-0.215,-55.683)"><text x="138" y="782.93" font-family="Liberation Serif, serif" font-size="24" fill="#000" text-anchor="end" letter-spacing="2" stroke="#fff" stroke-width="0.45">400</text></g><g transform="matrix(1.03862,0,0,1.07085,-3.746,-62.078)"><text x="138" y="877.71" font-family="Liberation Serif, serif" font-size="24" fill="#000" text-anchor="end" letter-spacing="2" stroke="#fff" stroke-width="0.45">500</text></g><g transform="matrix(1.03862,0,0,1.07085,-3.746,-72.455)"><text x="138" y="1020.63" font-family="Liberation Serif, serif" font-size="24" fill="#000" text-anchor="end" letter-spacing="2" stroke="#fff" stroke-width="0.45">700</text></g><g transform="matrix(1.03797,0,0,1.07085,-3.658,-77.826)"><text x="138" y="1103.1" font-family="Liberation Serif, serif" font-size="24" fill="#000" text-anchor="end" letter-spacing="2" stroke="#fff" stroke-width="0.45">850</text></g><g transform="matrix(1.01265,0,0,1.07085,-0.215,-80.633)"><text x="138" y="1139.02" font-family="Liberation Serif, serif" font-size="24" fill="#000" text-anchor="end" letter-spacing="2" stroke="#fff" stroke-width="0.45">925</text></g><g transform="matrix(1.00971,0,0,1.07085,0.185,-82.618)"><text x="138" y="1172.14" font-family="Liberation Serif, serif" font-size="24" fill="#000" text-anchor="end" letter-spacing="2" stroke="#fff" stroke-width="0.45">1000</text></g><g transform="matrix(1.08824,0,0,1.00324,-14.324,-0.768)"><text x="150" y="220" font-family="Liberation Serif, serif" font-size="22" fill="#c8af82" text-anchor="start" letter-spacing="1.5" stroke="#fff" stroke-width="0.25">320</text></g><g transform="matrix(1.08903,0,0,1.00324,-20.762,-0.768)"><text x="221.7" y="220" font-family="Liberation Serif, serif" font-size="22" fill="#c8af82" text-anchor="start" letter-spacing="1.5" stroke="#fff" stroke-width="0.25">330</text></g><g transform="matrix(1.08903,0,0,1.00324,-26.549,-0.768)"><text x="286.7" y="220" font-family="Liberation Serif, serif" font-size="22" fill="#c8af82" text-anchor="start" letter-spacing="1.5" stroke="#fff" stroke-width="0.25">340</text></g><g transform="matrix(1.08824,0,0,1.00324,-31.971,-0.768)"><text x="350" y="220" font-family="Liberation Serif, serif" font-size="22" fill="#c8af82" text-anchor="start" letter-spacing="1.5" stroke="#fff" stroke-width="0.25">350</text></g><g transform="matrix(1.08651,0,0,1.00324,-36.925,-0.768)"><text x="413.3" y="220" font-family="Liberation Serif, serif" font-size="22" fill="#c8af82" text-anchor="start" letter-spacing="1.5" stroke="#fff" stroke-width="0.25">360</text></g><g transform="matrix(1.08651,0,0,1.00324,-42.548,-0.768)"><text x="478.3" y="220" font-family="Liberation Serif, serif" font-size="22" fill="#c8af82" text-anchor="start" letter-spacing="1.5" stroke="#fff" stroke-width="0.25">370</text></g><g transform="matrix(1.08651,0,0,1.00324,-48.604,-0.768)"><text x="548.3" y="220" font-family="Liberation Serif, serif" font-size="22" fill="#c8af82" text-anchor="start" letter-spacing="1.5" stroke="#fff" stroke-width="0.25">380</text></g><g transform="matrix(1.08824,0,0,1.00324,-55.088,-0.768)"><text x="612" y="220" font-family="Liberation Serif, serif" font-size="22" fill="#c8af82" text-anchor="start" letter-spacing="1.5" stroke="#fff" stroke-width="0.25">390</text></g><g transform="matrix(1.05792,0,0,1.00324,-39.001,-0.768)"><text x="674.7" y="220" font-family="Liberation Serif, serif" font-size="22" fill="#c8af82" text-anchor="start" letter-spacing="1.5" stroke="#fff" stroke-width="0.25">400</text></g><g transform="matrix(1.05714,0,0,1.00324,-42.529,-0.768)"><text x="738.9" y="220" font-family="Liberation Serif, serif" font-size="22" fill="#c8af82" text-anchor="start" letter-spacing="1.5" stroke="#fff" stroke-width="0.25">410</text></g><g transform="matrix(1.05714,0,0,1.00324,-46.486,-0.768)"><text x="802.8" y="220" font-family="Liberation Serif, serif" font-size="22" fill="#c8af82" text-anchor="start" letter-spacing="1.5" stroke="#fff" stroke-width="0.25">420</text></g><g transform="matrix(1.05714,0,0,1.00324,-49.686,-0.768)"><text x="865.6" y="220" font-family="Liberation Serif, serif" font-size="22" fill="#c8af82" text-anchor="start" letter-spacing="1.5" stroke="#fff" stroke-width="0.25">430</text></g><g transform="matrix(1.05714,0,0,1.00324,-53.486,-0.768)"><text x="936" y="220" font-family="Liberation Serif, serif" font-size="22" fill="#c8af82" text-anchor="start" letter-spacing="1.5" stroke="#fff" stroke-width="0.25">440</text></g><g transform="matrix(1.13254,0,0,1.08400,-21.484,-27.532)"><text x="149" y="327.3" font-family="Liberation Serif, serif" font-size="22" fill="#c8af82" text-anchor="start" letter-spacing="1.5" stroke="#fff" stroke-width="0.25">310</text></g><g transform="matrix(1.13254,0,0,1.08400,-21.484,-38.474)"><text x="149" y="458" font-family="Liberation Serif, serif" font-size="22" fill="#c8af82" text-anchor="start" letter-spacing="1.5" stroke="#fff" stroke-width="0.25">300</text></g><g transform="matrix(1.10350,0,0,1.07143,-16.131,-41.829)"><text x="149" y="586.7" font-family="Liberation Serif, serif" font-size="22" fill="#c8af82" text-anchor="start" letter-spacing="1.5" stroke="#fff" stroke-width="0.25">290</text></g><g transform="matrix(1.10350,0,0,1.07143,-16.131,-50.357)"><text x="149" y="705" font-family="Liberation Serif, serif" font-size="22" fill="#c8af82" text-anchor="start" letter-spacing="1.5" stroke="#fff" stroke-width="0.25">280</text></g><g transform="matrix(1.10350,0,0,1.07143,-16.131,-58.786)"><text x="149" y="823" font-family="Liberation Serif, serif" font-size="22" fill="#c8af82" text-anchor="start" letter-spacing="1.5" stroke="#fff" stroke-width="0.25">270</text></g><g transform="matrix(1.12001,0,0,1.09612,-22.355,-48.305)"><text x="185" y="504" font-family="Liberation Serif, serif" font-size="22" fill="#00b400" text-anchor="start" letter-spacing="1" stroke="#fff" stroke-width="0.25">8</text></g><g transform="matrix(1.15338,0,0,1.09612,-41.214,-48.305)"><text x="253.3" y="504" font-family="Liberation Serif, serif" font-size="22" fill="#00b400" text-anchor="start" letter-spacing="1" stroke="#fff" stroke-width="0.25">12</text></g><g transform="matrix(1.13866,0,0,1.09612,-50.114,-48.305)"><text x="345" y="504" font-family="Liberation Serif, serif" font-size="22" fill="#00b400" text-anchor="start" letter-spacing="1" stroke="#fff" stroke-width="0.25">16</text></g><g transform="matrix(1.10051,0,0,1.09612,-46.135,-48.305)"><text x="452.8" y="504" font-family="Liberation Serif, serif" font-size="22" fill="#00b400" text-anchor="start" letter-spacing="1" stroke="#fff" stroke-width="0.25">20</text></g><g transform="matrix(1.09653,0,0,1.09612,-57.094,-48.305)"><text x="581.7" y="504" font-family="Liberation Serif, serif" font-size="22" fill="#00b400" text-anchor="start" letter-spacing="1" stroke="#fff" stroke-width="0.25">24</text></g><g transform="matrix(1.10931,0,0,1.09612,-80.212,-48.305)"><text x="731.6" y="504" font-family="Liberation Serif, serif" font-size="22" fill="#00b400" text-anchor="start" letter-spacing="1" stroke="#fff" stroke-width="0.25">28</text></g><g transform="matrix(1.17777,0,0,1.09612,-158.184,-48.305)"><text x="886.5" y="504" font-family="Liberation Serif, serif" font-size="22" fill="#00b400" text-anchor="start" letter-spacing="1" stroke="#fff" stroke-width="0.25">32</text></g><g transform="matrix(1.16110,0,0,0.95348,-100.958,42.520)"><text x="620.7" y="904.8" font-family="Liberation Serif, serif" font-size="22" fill="#00b400" text-anchor="start" letter-spacing="1" stroke="#fff" stroke-width="0.25">2</text></g><g transform="matrix(1.09273,0,0,0.95348,-64.425,42.520)"><text x="683" y="904.8" font-family="Liberation Serif, serif" font-size="22" fill="#00b400" text-anchor="start" letter-spacing="1" stroke="#fff" stroke-width="0.25">3</text></g><g transform="matrix(1.09009,0,0,0.95348,-69.598,42.520)"><text x="763.8" y="904.8" font-family="Liberation Serif, serif" font-size="22" fill="#00b400" text-anchor="start" letter-spacing="1" stroke="#fff" stroke-width="0.25">5</text></g><g transform="matrix(1.15218,0,0,0.95348,-128.808,42.520)"><text x="842.5" y="904.8" font-family="Liberation Serif, serif" font-size="22" fill="#00b400" text-anchor="start" letter-spacing="1" stroke="#fff" stroke-width="0.25">8</text></g><g transform="matrix(1.10768,0,0,0.95348,-99.182,42.520)"><text x="903.8" y="904.8" font-family="Liberation Serif, serif" font-size="22" fill="#00b400" text-anchor="start" letter-spacing="1" stroke="#fff" stroke-width="0.25">12</text></g><g transform="matrix(1.05294,0,0,0.95348,-52.365,42.520)"><text x="955.1" y="904.8" font-family="Liberation Serif, serif" font-size="22" fill="#00b400" text-anchor="start" letter-spacing="1" stroke="#fff" stroke-width="0.25">16</text></g><g transform="matrix(1.04161,0,0,0.95348,-41.657,42.520)"><text x="995.6" y="904.8" font-family="Liberation Serif, serif" font-size="22" fill="#00b400" text-anchor="start" letter-spacing="1" stroke="#fff" stroke-width="0.25">20</text></g><g transform="matrix(1.04348,0,0,0.95348,-45.383,42.520)"><text x="1029.8" y="904.8" font-family="Liberation Serif, serif" font-size="22" fill="#00b400" text-anchor="start" letter-spacing="1" stroke="#fff" stroke-width="0.25">24</text></g><g transform="matrix(1.27027,0,0,1.25048,-66.541,-41.817)"><text x="265" y="183" font-family="Liberation Serif, serif" font-size="23" fill="#c8af82" text-anchor="start" letter-spacing="1.5" transform="rotate(-45 265 183)" stroke="#fff" stroke-width="0.25">–100</text></g><g transform="matrix(1.29049,0,0,1.24214,-110.552,-37.658)"><text x="398.3" y="173.5" font-family="Liberation Serif, serif" font-size="23" fill="#c8af82" text-anchor="start" letter-spacing="1.5" transform="rotate(-45 398.3 173.5)" stroke="#fff" stroke-width="0.25">–90</text></g><g transform="matrix(1.32537,0,0,1.24214,-164.975,-37.658)"><text x="523.3" y="173.5" font-family="Liberation Serif, serif" font-size="23" fill="#c8af82" text-anchor="start" letter-spacing="1.5" transform="rotate(-45 523.3 173.5)" stroke="#fff" stroke-width="0.25">–80</text></g><g transform="matrix(1.28571,0,0,1.24558,-179.714,-38.246)"><text x="647" y="173.5" font-family="Liberation Serif, serif" font-size="23" fill="#c8af82" text-anchor="start" letter-spacing="1.5" transform="rotate(-45 647 173.5)" stroke="#fff" stroke-width="0.25">–70</text></g><g transform="matrix(1.30449,0,0,1.24558,-229.458,-38.246)"><text x="770.6" y="173.5" font-family="Liberation Serif, serif" font-size="23" fill="#c8af82" text-anchor="start" letter-spacing="1.5" transform="rotate(-45 770.6 173.5)" stroke="#fff" stroke-width="0.25">–60</text></g><g transform="matrix(1.30550,0,0,1.24558,-267.541,-38.246)"><text x="894.8" y="173.5" font-family="Liberation Serif, serif" font-size="23" fill="#c8af82" text-anchor="start" letter-spacing="1.5" transform="rotate(-45 894.8 173.5)" stroke="#fff" stroke-width="0.25">–50</text></g><g transform="matrix(1.27685,0,0,1.24558,-277.211,-38.246)"><text x="1019.6" y="173.5" font-family="Liberation Serif, serif" font-size="23" fill="#c8af82" text-anchor="start" letter-spacing="1.5" transform="rotate(-45 1019.6 173.5)" stroke="#fff" stroke-width="0.25">–40</text></g><g transform="matrix(1.28571,0,0,1.29032,-287.429,-83.226)"><text x="1024" y="301" font-family="Liberation Serif, serif" font-size="23" fill="#c8af82" text-anchor="start" letter-spacing="1.5" transform="rotate(-45 1024 301)" stroke="#fff" stroke-width="0.25">–30</text></g><g transform="matrix(1.28571,0,0,1.25806,-287.429,-107.710)"><text x="1024" y="433" font-family="Liberation Serif, serif" font-size="23" fill="#c8af82" text-anchor="start" letter-spacing="1.5" transform="rotate(-45 1024 433)" stroke="#fff" stroke-width="0.25">–20</text></g><g transform="matrix(1.25000,0,0,1.25806,-251.250,-141.258)"><text x="1025" y="563" font-family="Liberation Serif, serif" font-size="23" fill="#c8af82" text-anchor="start" letter-spacing="1.5" transform="rotate(-45 1025 563)" stroke="#fff" stroke-width="0.25">–10</text></g><g transform="matrix(1.21429,0,0,1.21905,-212.071,-145.667)"><text x="1035" y="681" font-family="Liberation Serif, serif" font-size="23" fill="#c8af82" text-anchor="start" letter-spacing="1.5" transform="rotate(-45 1035 681)" stroke="#fff" stroke-width="0.25">0</text></g><g transform="matrix(1.18357,0,0,1.20988,-186.520,-162.963)"><text x="1061" y="788" font-family="Liberation Serif, serif" font-size="23" fill="#c8af82" text-anchor="start" letter-spacing="1.5" transform="rotate(-45 1061 788)" stroke="#fff" stroke-width="0.25">10</text></g><g transform="matrix(1.16667,0,0,1.16148,-187.500,-146.594)"><text x="1188" y="915" font-family="Liberation Serif, serif" font-size="23" fill="#c8af82" text-anchor="start" letter-spacing="1.5" transform="rotate(-45 1188 915)" stroke="#fff" stroke-width="0.25">30</text></g><g transform="matrix(1.20000,0,0,1.21906,-238.800,-218.035)"><text x="1224" y="1012" font-family="Liberation Serif, serif" font-size="23" fill="#c8af82" text-anchor="start" letter-spacing="1.5" transform="rotate(-45 1224 1012)" stroke="#fff" stroke-width="0.25">40</text></g><g transform="matrix(0.81678,0,0,1.17708,58.296,-155.574)"><text x="322" y="878" font-family="Liberation Serif, serif" font-size="19" fill="#000" text-anchor="start" font-weight="bold">M</text></g><g transform="matrix(0.96266,0,0,1.10017,26.995,-88.941)"><text x="723" y="885.6" font-family="Liberation Serif, serif" font-size="19" fill="#000" text-anchor="start" font-weight="bold">CCL</text></g><g transform="matrix(0.96444,0,0,1.19648,23.320,-212.284)"><text x="644.8" y="1078" font-family="Liberation Serif, serif" font-size="19" fill="#000" text-anchor="start" font-weight="bold">LCL</text></g><g transform="matrix(1.40490,0,0,1.07919,-449.438,-11.971)"><text x="1110" y="151.7" font-family="Liberation Serif, serif" font-size="15" fill="#000" text-anchor="start" letter-spacing="0.5">Full barb:</text></g><g transform="matrix(1.47417,0,0,0.96469,-536.384,5.932)"><text x="1127.5" y="168" font-family="Liberation Serif, serif" font-size="15" fill="#000" text-anchor="start" letter-spacing="0.5">10 kts</text></g><g transform="matrix(1.02096,0,0,1.01073,-5.632,-9.607)"><text x="220" y="895" font-family="Liberation Mono, monospace" font-size="22" fill="#000" text-anchor="start" letter-spacing="0.5">Parcel Info</text></g><g transform="scale(1,1.175)" font-family="Liberation Mono, monospace" font-size="19.33" fill="#000"><text x="159" y="791.83" text-anchor="start">T</text><text x="193.8" y="791.83" text-anchor="start">=</text><text x="300.5" y="791.83" text-anchor="end">4.5</text><text x="315" y="791.83" text-anchor="start">Td</text><text x="349.8" y="791.83" text-anchor="start">=</text><text x="431.4" y="791.83" text-anchor="end">-7.4</text><text x="159" y="812.28" text-anchor="start">LI</text><text x="193.8" y="812.28" text-anchor="start">=</text><text x="300.5" y="812.28" text-anchor="end">22.6</text><text x="315" y="812.28" text-anchor="start">LCL</text><text x="361.4" y="812.28" text-anchor="start">=</text><text x="444" y="812.28" text-anchor="end">799.</text><text x="159" y="832.73" text-anchor="start">K</text><text x="193.8" y="832.73" text-anchor="start">=</text><text x="300.5" y="832.73" text-anchor="end">-8</text><text x="315" y="832.73" text-anchor="start">LFC</text><text x="361.4" y="832.73" text-anchor="start">=</text><text x="444" y="832.73" text-anchor="end">0.</text><text x="159" y="853.18" text-anchor="start">TT</text><text x="193.8" y="853.18" text-anchor="start">=</text><text x="300.5" y="853.18" text-anchor="end">15</text><text x="315" y="853.18" text-anchor="start">EL</text><text x="361.4" y="853.18" text-anchor="start">=</text><text x="444" y="853.18" text-anchor="end">0.</text><text x="159" y="873.63" text-anchor="start">SWI</text><text x="205.4" y="873.63" text-anchor="start">=</text><text x="300.5" y="873.63" text-anchor="end">19.7</text><text x="315" y="873.63" text-anchor="start">CCL</text><text x="361.4" y="873.63" text-anchor="start">=</text><text x="444" y="873.63" text-anchor="end">509.</text><text x="159" y="894.09" text-anchor="start">PW</text><text x="193.8" y="894.09" text-anchor="start">=</text><text x="300.5" y="894.09" text-anchor="end">1.07</text><text x="315" y="894.09" text-anchor="start">VGP</text><text x="361.4" y="894.09" text-anchor="start">=</text><text x="444" y="894.09" text-anchor="end">0.0</text><text x="159" y="914.54" text-anchor="start">CAPE</text><text x="217" y="914.54" text-anchor="start">=</text><text x="300.5" y="914.54" text-anchor="end">0</text><text x="315" y="914.54" text-anchor="start">SWEAT</text><text x="373" y="914.54" text-anchor="start">=</text><text x="444" y="914.54" text-anchor="end">66</text><text x="159" y="934.99" text-anchor="start">CIN</text><text x="205.4" y="934.99" text-anchor="start">=</text><text x="300.5" y="934.99" text-anchor="end">0</text><text x="315" y="934.99" text-anchor="start">HWBZ</text><text x="361.4" y="934.99" text-anchor="start">=</text><text x="444" y="934.99" text-anchor="end">31.</text><text x="159" y="955.44" text-anchor="start">Tc</text><text x="193.8" y="955.44" text-anchor="start">=</text><text x="300.5" y="955.44" text-anchor="end">36.6</text><text x="315" y="955.44" text-anchor="start">SHEAR</text><text x="373" y="955.44" text-anchor="start">=</text><text x="444" y="955.44" text-anchor="end">66.</text><text x="159" y="975.89" text-anchor="start">SREH</text><text x="217" y="975.89" text-anchor="start">=</text><text x="300.5" y="975.89" text-anchor="end">0</text><text x="315" y="975.89" text-anchor="start">LAPSE</text><text x="373" y="975.89" text-anchor="start">=</text><text x="444" y="975.89" text-anchor="end">4.8</text><text x="159" y="996.34" text-anchor="start">CELL</text><text x="217" y="996.34" text-anchor="start">=</text><text x="310" y="996.34" text-anchor="end">234/61</text></g></svg></body></html>
